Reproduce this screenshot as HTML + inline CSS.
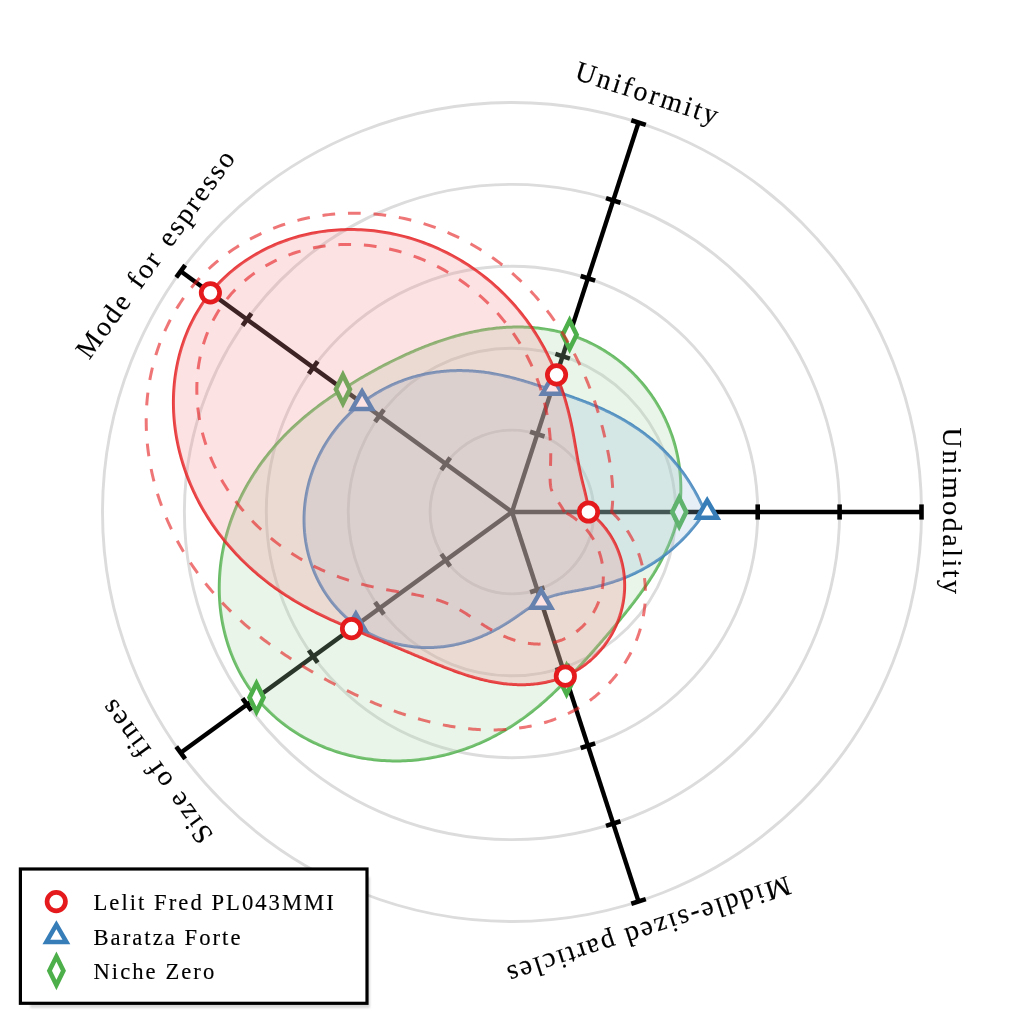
<!DOCTYPE html><html><head><meta charset="utf-8"><style>html,body{margin:0;padding:0;background:#fff;overflow:hidden}svg{display:block}text{font-family:"Liberation Serif",serif}</style></head><body>
<div style="will-change:transform;width:1024px;height:1024px">
<svg width="1024" height="1024" viewBox="0 0 1024 1024">
<rect width="1024" height="1024" fill="#fff"/>
<circle cx="512.0" cy="512.0" r="81.90" fill="none" stroke="#dcdcdc" stroke-width="2.9"/>
<circle cx="512.0" cy="512.0" r="163.80" fill="none" stroke="#dcdcdc" stroke-width="2.9"/>
<circle cx="512.0" cy="512.0" r="245.70" fill="none" stroke="#dcdcdc" stroke-width="2.9"/>
<circle cx="512.0" cy="512.0" r="327.60" fill="none" stroke="#dcdcdc" stroke-width="2.9"/>
<circle cx="512.0" cy="512.0" r="409.50" fill="none" stroke="#dcdcdc" stroke-width="2.9"/>
<line x1="512.0" y1="512.0" x2="921.50" y2="512.00" stroke="#000" stroke-width="4.4"/>
<line x1="593.90" y1="504.40" x2="593.90" y2="519.60" stroke="#000" stroke-width="4.6"/>
<line x1="675.80" y1="504.40" x2="675.80" y2="519.60" stroke="#000" stroke-width="4.6"/>
<line x1="757.70" y1="504.40" x2="757.70" y2="519.60" stroke="#000" stroke-width="4.6"/>
<line x1="839.60" y1="504.40" x2="839.60" y2="519.60" stroke="#000" stroke-width="4.6"/>
<line x1="921.50" y1="504.40" x2="921.50" y2="519.60" stroke="#000" stroke-width="4.6"/>
<line x1="512.0" y1="512.0" x2="638.54" y2="122.54" stroke="#000" stroke-width="4.4"/>
<line x1="530.08" y1="431.76" x2="544.54" y2="436.46" stroke="#000" stroke-width="4.6"/>
<line x1="555.39" y1="353.87" x2="569.85" y2="358.57" stroke="#000" stroke-width="4.6"/>
<line x1="580.70" y1="275.98" x2="595.15" y2="280.67" stroke="#000" stroke-width="4.6"/>
<line x1="606.01" y1="198.09" x2="620.46" y2="202.78" stroke="#000" stroke-width="4.6"/>
<line x1="631.31" y1="120.19" x2="645.77" y2="124.89" stroke="#000" stroke-width="4.6"/>
<line x1="512.0" y1="512.0" x2="180.71" y2="271.30" stroke="#000" stroke-width="4.4"/>
<line x1="441.27" y1="470.01" x2="450.21" y2="457.71" stroke="#000" stroke-width="4.6"/>
<line x1="375.02" y1="421.87" x2="383.95" y2="409.57" stroke="#000" stroke-width="4.6"/>
<line x1="308.76" y1="373.73" x2="317.69" y2="361.43" stroke="#000" stroke-width="4.6"/>
<line x1="242.50" y1="325.59" x2="251.43" y2="313.29" stroke="#000" stroke-width="4.6"/>
<line x1="176.24" y1="277.45" x2="185.17" y2="265.15" stroke="#000" stroke-width="4.6"/>
<line x1="512.0" y1="512.0" x2="180.71" y2="752.70" stroke="#000" stroke-width="4.4"/>
<line x1="450.21" y1="566.29" x2="441.27" y2="553.99" stroke="#000" stroke-width="4.6"/>
<line x1="383.95" y1="614.43" x2="375.02" y2="602.13" stroke="#000" stroke-width="4.6"/>
<line x1="317.69" y1="662.57" x2="308.76" y2="650.27" stroke="#000" stroke-width="4.6"/>
<line x1="251.43" y1="710.71" x2="242.50" y2="698.41" stroke="#000" stroke-width="4.6"/>
<line x1="185.17" y1="758.85" x2="176.24" y2="746.55" stroke="#000" stroke-width="4.6"/>
<line x1="512.0" y1="512.0" x2="638.54" y2="901.46" stroke="#000" stroke-width="4.4"/>
<line x1="544.54" y1="587.54" x2="530.08" y2="592.24" stroke="#000" stroke-width="4.6"/>
<line x1="569.85" y1="665.43" x2="555.39" y2="670.13" stroke="#000" stroke-width="4.6"/>
<line x1="595.15" y1="743.33" x2="580.70" y2="748.02" stroke="#000" stroke-width="4.6"/>
<line x1="620.46" y1="821.22" x2="606.01" y2="825.91" stroke="#000" stroke-width="4.6"/>
<line x1="645.77" y1="899.11" x2="631.31" y2="903.81" stroke="#000" stroke-width="4.6"/>
<path d="M679.20,512.00 L679.40,510.54 L679.59,509.07 L679.76,507.60 L679.92,506.13 L680.07,504.65 L680.21,503.17 L680.33,501.69 L680.44,500.21 L680.53,498.72 L680.61,497.23 L680.68,495.74 L680.74,494.24 L680.78,492.74 L680.81,491.24 L680.82,489.74 L680.82,488.24 L680.81,486.74 L680.78,485.23 L680.74,483.72 L680.69,482.21 L680.62,480.70 L680.54,479.19 L680.44,477.68 L680.33,476.17 L680.21,474.66 L680.07,473.14 L679.92,471.63 L679.75,470.12 L679.57,468.60 L679.37,467.09 L679.16,465.57 L678.94,464.06 L678.70,462.55 L678.45,461.04 L678.18,459.53 L677.90,458.02 L677.60,456.51 L677.29,455.00 L676.97,453.49 L676.63,451.99 L676.28,450.49 L675.91,448.99 L675.52,447.49 L675.13,445.99 L674.72,444.50 L674.29,443.01 L673.85,441.52 L673.39,440.03 L672.92,438.55 L672.44,437.07 L671.94,435.59 L671.43,434.12 L670.90,432.65 L670.35,431.18 L669.80,429.72 L669.23,428.26 L668.64,426.81 L668.04,425.36 L667.42,423.92 L666.79,422.48 L666.15,421.04 L665.49,419.62 L664.82,418.19 L664.13,416.77 L663.43,415.36 L662.72,413.95 L661.99,412.55 L661.24,411.15 L660.49,409.77 L659.71,408.38 L658.93,407.01 L658.13,405.64 L657.31,404.27 L656.49,402.92 L655.64,401.57 L654.79,400.23 L653.92,398.90 L653.04,397.57 L652.14,396.25 L651.23,394.94 L650.31,393.64 L649.37,392.35 L648.42,391.06 L647.46,389.78 L646.48,388.52 L645.49,387.26 L644.49,386.01 L643.47,384.77 L642.44,383.54 L641.40,382.32 L640.35,381.11 L639.28,379.90 L638.20,378.71 L637.11,377.53 L636.00,376.36 L634.89,375.20 L633.76,374.05 L632.62,372.91 L631.46,371.78 L630.30,370.67 L629.12,369.56 L627.94,368.47 L626.74,367.39 L625.53,366.32 L624.30,365.26 L623.07,364.21 L621.83,363.18 L620.57,362.15 L619.30,361.14 L618.03,360.15 L616.74,359.16 L615.44,358.19 L614.13,357.23 L612.82,356.29 L611.49,355.35 L610.15,354.43 L608.80,353.53 L607.44,352.64 L606.08,351.76 L604.70,350.89 L603.32,350.04 L601.92,349.21 L600.52,348.39 L599.11,347.58 L597.69,346.79 L596.26,346.01 L594.82,345.24 L593.38,344.50 L591.92,343.76 L590.46,343.04 L588.99,342.34 L587.52,341.65 L586.03,340.98 L584.54,340.32 L583.05,339.68 L581.54,339.06 L580.03,338.45 L578.52,337.85 L576.99,337.27 L575.46,336.71 L573.93,336.16 L572.39,335.64 L570.84,335.12 L569.29,334.63 L567.73,334.14 L566.17,333.68 L564.61,333.23 L563.04,332.80 L561.46,332.39 L559.88,331.99 L558.30,331.61 L556.71,331.24 L555.13,330.89 L553.53,330.55 L551.94,330.23 L550.34,329.93 L548.74,329.64 L547.14,329.37 L545.53,329.12 L543.92,328.87 L542.31,328.65 L540.70,328.44 L539.09,328.24 L537.48,328.06 L535.86,327.90 L534.25,327.75 L532.63,327.61 L531.01,327.49 L529.39,327.38 L527.78,327.29 L526.16,327.21 L524.54,327.15 L522.92,327.10 L521.30,327.06 L519.68,327.04 L518.06,327.03 L516.45,327.04 L514.83,327.06 L513.21,327.09 L511.60,327.13 L509.98,327.19 L508.37,327.26 L506.75,327.35 L505.14,327.44 L503.53,327.55 L501.92,327.68 L500.31,327.81 L498.71,327.96 L497.10,328.11 L495.50,328.28 L493.90,328.47 L492.30,328.66 L490.70,328.87 L489.10,329.08 L487.51,329.31 L485.92,329.55 L484.32,329.80 L482.74,330.06 L481.15,330.34 L479.56,330.62 L477.98,330.91 L476.40,331.22 L474.82,331.53 L473.24,331.86 L471.67,332.19 L470.09,332.54 L468.52,332.89 L466.95,333.26 L465.39,333.63 L463.82,334.01 L462.26,334.41 L460.70,334.81 L459.14,335.22 L457.58,335.64 L456.03,336.07 L454.47,336.51 L452.92,336.96 L451.37,337.42 L449.82,337.89 L448.27,338.36 L446.73,338.84 L445.19,339.34 L443.64,339.84 L442.10,340.34 L440.56,340.86 L439.03,341.39 L437.49,341.92 L435.95,342.46 L434.42,343.01 L432.88,343.57 L431.35,344.13 L429.82,344.70 L428.29,345.28 L426.76,345.87 L425.23,346.47 L423.70,347.07 L422.17,347.68 L420.64,348.30 L419.11,348.93 L417.59,349.57 L416.06,350.21 L414.53,350.86 L413.00,351.51 L411.47,352.18 L409.94,352.85 L408.41,353.53 L406.88,354.22 L405.35,354.91 L403.82,355.62 L402.29,356.33 L400.76,357.04 L399.22,357.77 L397.69,358.50 L396.15,359.24 L394.61,359.99 L393.07,360.75 L391.53,361.51 L389.98,362.28 L388.44,363.06 L386.89,363.85 L385.34,364.65 L383.79,365.45 L382.23,366.26 L380.68,367.09 L379.12,367.92 L377.55,368.75 L375.99,369.60 L374.42,370.45 L372.85,371.32 L371.27,372.19 L369.69,373.07 L368.11,373.96 L366.53,374.86 L364.94,375.77 L363.35,376.69 L361.75,377.62 L360.15,378.56 L358.54,379.51 L356.94,380.47 L355.32,381.44 L353.71,382.42 L352.08,383.41 L350.46,384.41 L348.83,385.42 L347.19,386.44 L345.55,387.47 L343.91,388.52 L342.25,389.58 L340.60,390.65 L338.94,391.73 L337.27,392.82 L335.61,393.93 L333.93,395.05 L332.26,396.18 L330.58,397.33 L328.89,398.50 L327.21,399.67 L325.52,400.87 L323.83,402.08 L322.14,403.30 L320.45,404.55 L318.75,405.80 L317.06,407.08 L315.36,408.37 L313.66,409.68 L311.97,411.01 L310.27,412.36 L308.58,413.72 L306.89,415.11 L305.20,416.51 L303.51,417.93 L301.83,419.38 L300.14,420.84 L298.47,422.32 L296.79,423.82 L295.12,425.34 L293.46,426.88 L291.80,428.45 L290.15,430.03 L288.50,431.63 L286.86,433.26 L285.23,434.91 L283.60,436.57 L281.99,438.26 L280.38,439.97 L278.78,441.71 L277.20,443.46 L275.62,445.24 L274.05,447.03 L272.50,448.85 L270.95,450.69 L269.42,452.56 L267.90,454.44 L266.40,456.35 L264.91,458.27 L263.43,460.22 L261.97,462.20 L260.53,464.19 L259.10,466.20 L257.68,468.24 L256.29,470.30 L254.91,472.37 L253.55,474.47 L252.21,476.59 L250.88,478.74 L249.58,480.90 L248.30,483.08 L247.04,485.28 L245.80,487.51 L244.58,489.75 L243.39,492.01 L242.21,494.29 L241.06,496.59 L239.94,498.91 L238.84,501.25 L237.76,503.61 L236.71,505.98 L235.68,508.38 L234.69,510.79 L233.72,513.22 L232.77,515.66 L231.85,518.12 L230.97,520.60 L230.11,523.09 L229.28,525.60 L228.48,528.12 L227.71,530.66 L226.97,533.21 L226.26,535.78 L225.59,538.35 L224.94,540.95 L224.33,543.55 L223.75,546.16 L223.21,548.79 L222.70,551.43 L222.22,554.08 L221.77,556.73 L221.37,559.40 L220.99,562.08 L220.65,564.76 L220.35,567.45 L220.09,570.15 L219.86,572.85 L219.67,575.56 L219.51,578.28 L219.40,581.00 L219.32,583.72 L219.28,586.45 L219.27,589.18 L219.31,591.91 L219.38,594.65 L219.50,597.38 L219.65,600.12 L219.85,602.85 L220.08,605.58 L220.35,608.31 L220.67,611.04 L221.02,613.77 L221.42,616.49 L221.85,619.20 L222.33,621.91 L222.85,624.62 L223.41,627.31 L224.01,630.00 L224.65,632.68 L225.33,635.35 L226.06,638.02 L226.82,640.67 L227.63,643.30 L228.48,645.93 L229.37,648.54 L230.30,651.14 L231.28,653.73 L232.29,656.29 L233.35,658.84 L234.45,661.38 L235.59,663.90 L236.77,666.39 L237.99,668.87 L239.26,671.33 L240.56,673.76 L241.91,676.18 L243.29,678.57 L244.72,680.93 L246.19,683.28 L247.69,685.59 L249.24,687.88 L250.83,690.14 L252.45,692.38 L254.12,694.58 L255.82,696.76 L257.56,698.91 L259.34,701.02 L261.16,703.10 L263.01,705.15 L264.90,707.17 L266.82,709.15 L268.78,711.11 L270.77,713.02 L272.79,714.91 L274.85,716.75 L276.93,718.57 L279.05,720.34 L281.19,722.08 L283.36,723.79 L285.56,725.46 L287.79,727.09 L290.04,728.68 L292.32,730.24 L294.62,731.76 L296.95,733.25 L299.30,734.69 L301.67,736.10 L304.06,737.46 L306.47,738.79 L308.91,740.09 L311.36,741.34 L313.82,742.55 L316.31,743.73 L318.81,744.86 L321.33,745.96 L323.86,747.01 L326.41,748.03 L328.97,749.01 L331.54,749.95 L334.12,750.85 L336.72,751.71 L339.32,752.53 L341.94,753.32 L344.56,754.06 L347.19,754.76 L349.83,755.43 L352.47,756.06 L355.12,756.64 L357.78,757.19 L360.43,757.70 L363.10,758.18 L365.76,758.61 L368.43,759.01 L371.10,759.36 L373.77,759.69 L376.44,759.97 L379.11,760.22 L381.78,760.43 L384.44,760.60 L387.11,760.74 L389.77,760.84 L392.42,760.90 L395.07,760.93 L397.72,760.92 L400.36,760.88 L403.00,760.81 L405.63,760.70 L408.25,760.55 L410.86,760.38 L413.47,760.17 L416.06,759.92 L418.65,759.65 L421.23,759.34 L423.79,759.00 L426.35,758.63 L428.89,758.23 L431.42,757.80 L433.94,757.34 L436.45,756.85 L438.94,756.33 L441.42,755.78 L443.88,755.21 L446.33,754.60 L448.77,753.97 L451.19,753.31 L453.59,752.63 L455.98,751.92 L458.35,751.19 L460.70,750.43 L463.04,749.64 L465.36,748.84 L467.66,748.01 L469.95,747.15 L472.21,746.28 L474.46,745.38 L476.69,744.47 L478.90,743.53 L481.09,742.57 L483.26,741.60 L485.41,740.60 L487.54,739.59 L489.66,738.55 L491.75,737.51 L493.82,736.44 L495.87,735.36 L497.90,734.26 L499.91,733.15 L501.90,732.03 L503.87,730.89 L505.81,729.73 L507.74,728.57 L509.65,727.39 L511.53,726.20 L513.40,725.00 L515.24,723.79 L517.06,722.57 L518.86,721.34 L520.64,720.10 L522.40,718.86 L524.14,717.60 L525.86,716.34 L527.56,715.07 L529.24,713.80 L530.89,712.52 L532.53,711.23 L534.15,709.94 L535.74,708.65 L537.32,707.36 L538.88,706.06 L540.42,704.76 L541.94,703.45 L543.44,702.15 L544.92,700.84 L546.38,699.54 L547.83,698.23 L549.26,696.92 L550.67,695.62 L552.06,694.32 L553.43,693.02 L554.79,691.72 L556.14,690.42 L557.46,689.13 L558.77,687.84 L560.07,686.56 L561.35,685.28 L562.62,684.00 L563.87,682.73 L565.10,681.47 L566.33,680.21 L567.54,678.96 L568.74,677.71 L569.93,676.47 L571.10,675.24 L572.26,674.01 L573.41,672.79 L574.55,671.58 L575.68,670.37 L576.80,669.17 L577.91,667.98 L579.01,666.79 L580.10,665.61 L581.17,664.43 L582.24,663.26 L583.30,662.09 L584.35,660.93 L585.40,659.78 L586.43,658.63 L587.46,657.49 L588.48,656.35 L589.49,655.22 L590.49,654.09 L591.48,652.97 L592.47,651.85 L593.46,650.74 L594.43,649.63 L595.40,648.53 L596.36,647.43 L597.32,646.34 L598.27,645.25 L599.22,644.16 L600.16,643.08 L601.09,642.00 L602.02,640.93 L602.94,639.86 L603.86,638.79 L604.78,637.72 L605.69,636.66 L606.59,635.60 L607.50,634.55 L608.39,633.49 L609.29,632.44 L610.18,631.39 L611.06,630.35 L611.94,629.30 L612.82,628.26 L613.69,627.22 L614.57,626.18 L615.43,625.14 L616.30,624.10 L617.16,623.07 L618.02,622.03 L618.87,621.00 L619.73,619.96 L620.57,618.93 L621.42,617.89 L622.27,616.86 L623.11,615.82 L623.94,614.79 L624.78,613.76 L625.61,612.72 L626.44,611.68 L627.27,610.65 L628.09,609.61 L628.92,608.57 L629.74,607.53 L630.55,606.48 L631.37,605.44 L632.18,604.39 L632.99,603.34 L633.79,602.29 L634.60,601.24 L635.40,600.18 L636.20,599.12 L636.99,598.06 L637.79,596.99 L638.57,595.93 L639.36,594.85 L640.15,593.78 L640.93,592.70 L641.70,591.62 L642.48,590.53 L643.25,589.44 L644.02,588.35 L644.78,587.25 L645.54,586.15 L646.30,585.04 L647.05,583.93 L647.80,582.81 L648.55,581.69 L649.29,580.56 L650.03,579.43 L650.76,578.29 L651.49,577.15 L652.21,576.00 L652.93,574.85 L653.65,573.69 L654.36,572.52 L655.07,571.35 L655.77,570.18 L656.46,568.99 L657.15,567.80 L657.84,566.61 L658.52,565.41 L659.19,564.20 L659.86,562.99 L660.52,561.77 L661.18,560.54 L661.82,559.31 L662.47,558.07 L663.10,556.82 L663.73,555.57 L664.35,554.31 L664.97,553.05 L665.58,551.78 L666.18,550.50 L666.77,549.21 L667.35,547.92 L667.93,546.62 L668.50,545.31 L669.06,544.00 L669.61,542.68 L670.15,541.35 L670.68,540.02 L671.21,538.68 L671.72,537.33 L672.23,535.98 L672.72,534.62 L673.21,533.25 L673.69,531.88 L674.15,530.50 L674.61,529.11 L675.05,527.72 L675.49,526.32 L675.91,524.92 L676.32,523.51 L676.73,522.09 L677.11,520.67 L677.49,519.24 L677.86,517.80 L678.21,516.36 L678.55,514.91 L678.88,513.46 L679.20,512.00 Z" fill="none" stroke="rgba(77,175,74,0.85)" stroke-width="3.0" stroke-linejoin="round"/>
<path d="M679.20,512.00 L679.40,510.54 L679.59,509.07 L679.76,507.60 L679.92,506.13 L680.07,504.65 L680.21,503.17 L680.33,501.69 L680.44,500.21 L680.53,498.72 L680.61,497.23 L680.68,495.74 L680.74,494.24 L680.78,492.74 L680.81,491.24 L680.82,489.74 L680.82,488.24 L680.81,486.74 L680.78,485.23 L680.74,483.72 L680.69,482.21 L680.62,480.70 L680.54,479.19 L680.44,477.68 L680.33,476.17 L680.21,474.66 L680.07,473.14 L679.92,471.63 L679.75,470.12 L679.57,468.60 L679.37,467.09 L679.16,465.57 L678.94,464.06 L678.70,462.55 L678.45,461.04 L678.18,459.53 L677.90,458.02 L677.60,456.51 L677.29,455.00 L676.97,453.49 L676.63,451.99 L676.28,450.49 L675.91,448.99 L675.52,447.49 L675.13,445.99 L674.72,444.50 L674.29,443.01 L673.85,441.52 L673.39,440.03 L672.92,438.55 L672.44,437.07 L671.94,435.59 L671.43,434.12 L670.90,432.65 L670.35,431.18 L669.80,429.72 L669.23,428.26 L668.64,426.81 L668.04,425.36 L667.42,423.92 L666.79,422.48 L666.15,421.04 L665.49,419.62 L664.82,418.19 L664.13,416.77 L663.43,415.36 L662.72,413.95 L661.99,412.55 L661.24,411.15 L660.49,409.77 L659.71,408.38 L658.93,407.01 L658.13,405.64 L657.31,404.27 L656.49,402.92 L655.64,401.57 L654.79,400.23 L653.92,398.90 L653.04,397.57 L652.14,396.25 L651.23,394.94 L650.31,393.64 L649.37,392.35 L648.42,391.06 L647.46,389.78 L646.48,388.52 L645.49,387.26 L644.49,386.01 L643.47,384.77 L642.44,383.54 L641.40,382.32 L640.35,381.11 L639.28,379.90 L638.20,378.71 L637.11,377.53 L636.00,376.36 L634.89,375.20 L633.76,374.05 L632.62,372.91 L631.46,371.78 L630.30,370.67 L629.12,369.56 L627.94,368.47 L626.74,367.39 L625.53,366.32 L624.30,365.26 L623.07,364.21 L621.83,363.18 L620.57,362.15 L619.30,361.14 L618.03,360.15 L616.74,359.16 L615.44,358.19 L614.13,357.23 L612.82,356.29 L611.49,355.35 L610.15,354.43 L608.80,353.53 L607.44,352.64 L606.08,351.76 L604.70,350.89 L603.32,350.04 L601.92,349.21 L600.52,348.39 L599.11,347.58 L597.69,346.79 L596.26,346.01 L594.82,345.24 L593.38,344.50 L591.92,343.76 L590.46,343.04 L588.99,342.34 L587.52,341.65 L586.03,340.98 L584.54,340.32 L583.05,339.68 L581.54,339.06 L580.03,338.45 L578.52,337.85 L576.99,337.27 L575.46,336.71 L573.93,336.16 L572.39,335.64 L570.84,335.12 L569.29,334.63 L567.73,334.14 L566.17,333.68 L564.61,333.23 L563.04,332.80 L561.46,332.39 L559.88,331.99 L558.30,331.61 L556.71,331.24 L555.13,330.89 L553.53,330.55 L551.94,330.23 L550.34,329.93 L548.74,329.64 L547.14,329.37 L545.53,329.12 L543.92,328.87 L542.31,328.65 L540.70,328.44 L539.09,328.24 L537.48,328.06 L535.86,327.90 L534.25,327.75 L532.63,327.61 L531.01,327.49 L529.39,327.38 L527.78,327.29 L526.16,327.21 L524.54,327.15 L522.92,327.10 L521.30,327.06 L519.68,327.04 L518.06,327.03 L516.45,327.04 L514.83,327.06 L513.21,327.09 L511.60,327.13 L509.98,327.19 L508.37,327.26 L506.75,327.35 L505.14,327.44 L503.53,327.55 L501.92,327.68 L500.31,327.81 L498.71,327.96 L497.10,328.11 L495.50,328.28 L493.90,328.47 L492.30,328.66 L490.70,328.87 L489.10,329.08 L487.51,329.31 L485.92,329.55 L484.32,329.80 L482.74,330.06 L481.15,330.34 L479.56,330.62 L477.98,330.91 L476.40,331.22 L474.82,331.53 L473.24,331.86 L471.67,332.19 L470.09,332.54 L468.52,332.89 L466.95,333.26 L465.39,333.63 L463.82,334.01 L462.26,334.41 L460.70,334.81 L459.14,335.22 L457.58,335.64 L456.03,336.07 L454.47,336.51 L452.92,336.96 L451.37,337.42 L449.82,337.89 L448.27,338.36 L446.73,338.84 L445.19,339.34 L443.64,339.84 L442.10,340.34 L440.56,340.86 L439.03,341.39 L437.49,341.92 L435.95,342.46 L434.42,343.01 L432.88,343.57 L431.35,344.13 L429.82,344.70 L428.29,345.28 L426.76,345.87 L425.23,346.47 L423.70,347.07 L422.17,347.68 L420.64,348.30 L419.11,348.93 L417.59,349.57 L416.06,350.21 L414.53,350.86 L413.00,351.51 L411.47,352.18 L409.94,352.85 L408.41,353.53 L406.88,354.22 L405.35,354.91 L403.82,355.62 L402.29,356.33 L400.76,357.04 L399.22,357.77 L397.69,358.50 L396.15,359.24 L394.61,359.99 L393.07,360.75 L391.53,361.51 L389.98,362.28 L388.44,363.06 L386.89,363.85 L385.34,364.65 L383.79,365.45 L382.23,366.26 L380.68,367.09 L379.12,367.92 L377.55,368.75 L375.99,369.60 L374.42,370.45 L372.85,371.32 L371.27,372.19 L369.69,373.07 L368.11,373.96 L366.53,374.86 L364.94,375.77 L363.35,376.69 L361.75,377.62 L360.15,378.56 L358.54,379.51 L356.94,380.47 L355.32,381.44 L353.71,382.42 L352.08,383.41 L350.46,384.41 L348.83,385.42 L347.19,386.44 L345.55,387.47 L343.91,388.52 L342.25,389.58 L340.60,390.65 L338.94,391.73 L337.27,392.82 L335.61,393.93 L333.93,395.05 L332.26,396.18 L330.58,397.33 L328.89,398.50 L327.21,399.67 L325.52,400.87 L323.83,402.08 L322.14,403.30 L320.45,404.55 L318.75,405.80 L317.06,407.08 L315.36,408.37 L313.66,409.68 L311.97,411.01 L310.27,412.36 L308.58,413.72 L306.89,415.11 L305.20,416.51 L303.51,417.93 L301.83,419.38 L300.14,420.84 L298.47,422.32 L296.79,423.82 L295.12,425.34 L293.46,426.88 L291.80,428.45 L290.15,430.03 L288.50,431.63 L286.86,433.26 L285.23,434.91 L283.60,436.57 L281.99,438.26 L280.38,439.97 L278.78,441.71 L277.20,443.46 L275.62,445.24 L274.05,447.03 L272.50,448.85 L270.95,450.69 L269.42,452.56 L267.90,454.44 L266.40,456.35 L264.91,458.27 L263.43,460.22 L261.97,462.20 L260.53,464.19 L259.10,466.20 L257.68,468.24 L256.29,470.30 L254.91,472.37 L253.55,474.47 L252.21,476.59 L250.88,478.74 L249.58,480.90 L248.30,483.08 L247.04,485.28 L245.80,487.51 L244.58,489.75 L243.39,492.01 L242.21,494.29 L241.06,496.59 L239.94,498.91 L238.84,501.25 L237.76,503.61 L236.71,505.98 L235.68,508.38 L234.69,510.79 L233.72,513.22 L232.77,515.66 L231.85,518.12 L230.97,520.60 L230.11,523.09 L229.28,525.60 L228.48,528.12 L227.71,530.66 L226.97,533.21 L226.26,535.78 L225.59,538.35 L224.94,540.95 L224.33,543.55 L223.75,546.16 L223.21,548.79 L222.70,551.43 L222.22,554.08 L221.77,556.73 L221.37,559.40 L220.99,562.08 L220.65,564.76 L220.35,567.45 L220.09,570.15 L219.86,572.85 L219.67,575.56 L219.51,578.28 L219.40,581.00 L219.32,583.72 L219.28,586.45 L219.27,589.18 L219.31,591.91 L219.38,594.65 L219.50,597.38 L219.65,600.12 L219.85,602.85 L220.08,605.58 L220.35,608.31 L220.67,611.04 L221.02,613.77 L221.42,616.49 L221.85,619.20 L222.33,621.91 L222.85,624.62 L223.41,627.31 L224.01,630.00 L224.65,632.68 L225.33,635.35 L226.06,638.02 L226.82,640.67 L227.63,643.30 L228.48,645.93 L229.37,648.54 L230.30,651.14 L231.28,653.73 L232.29,656.29 L233.35,658.84 L234.45,661.38 L235.59,663.90 L236.77,666.39 L237.99,668.87 L239.26,671.33 L240.56,673.76 L241.91,676.18 L243.29,678.57 L244.72,680.93 L246.19,683.28 L247.69,685.59 L249.24,687.88 L250.83,690.14 L252.45,692.38 L254.12,694.58 L255.82,696.76 L257.56,698.91 L259.34,701.02 L261.16,703.10 L263.01,705.15 L264.90,707.17 L266.82,709.15 L268.78,711.11 L270.77,713.02 L272.79,714.91 L274.85,716.75 L276.93,718.57 L279.05,720.34 L281.19,722.08 L283.36,723.79 L285.56,725.46 L287.79,727.09 L290.04,728.68 L292.32,730.24 L294.62,731.76 L296.95,733.25 L299.30,734.69 L301.67,736.10 L304.06,737.46 L306.47,738.79 L308.91,740.09 L311.36,741.34 L313.82,742.55 L316.31,743.73 L318.81,744.86 L321.33,745.96 L323.86,747.01 L326.41,748.03 L328.97,749.01 L331.54,749.95 L334.12,750.85 L336.72,751.71 L339.32,752.53 L341.94,753.32 L344.56,754.06 L347.19,754.76 L349.83,755.43 L352.47,756.06 L355.12,756.64 L357.78,757.19 L360.43,757.70 L363.10,758.18 L365.76,758.61 L368.43,759.01 L371.10,759.36 L373.77,759.69 L376.44,759.97 L379.11,760.22 L381.78,760.43 L384.44,760.60 L387.11,760.74 L389.77,760.84 L392.42,760.90 L395.07,760.93 L397.72,760.92 L400.36,760.88 L403.00,760.81 L405.63,760.70 L408.25,760.55 L410.86,760.38 L413.47,760.17 L416.06,759.92 L418.65,759.65 L421.23,759.34 L423.79,759.00 L426.35,758.63 L428.89,758.23 L431.42,757.80 L433.94,757.34 L436.45,756.85 L438.94,756.33 L441.42,755.78 L443.88,755.21 L446.33,754.60 L448.77,753.97 L451.19,753.31 L453.59,752.63 L455.98,751.92 L458.35,751.19 L460.70,750.43 L463.04,749.64 L465.36,748.84 L467.66,748.01 L469.95,747.15 L472.21,746.28 L474.46,745.38 L476.69,744.47 L478.90,743.53 L481.09,742.57 L483.26,741.60 L485.41,740.60 L487.54,739.59 L489.66,738.55 L491.75,737.51 L493.82,736.44 L495.87,735.36 L497.90,734.26 L499.91,733.15 L501.90,732.03 L503.87,730.89 L505.81,729.73 L507.74,728.57 L509.65,727.39 L511.53,726.20 L513.40,725.00 L515.24,723.79 L517.06,722.57 L518.86,721.34 L520.64,720.10 L522.40,718.86 L524.14,717.60 L525.86,716.34 L527.56,715.07 L529.24,713.80 L530.89,712.52 L532.53,711.23 L534.15,709.94 L535.74,708.65 L537.32,707.36 L538.88,706.06 L540.42,704.76 L541.94,703.45 L543.44,702.15 L544.92,700.84 L546.38,699.54 L547.83,698.23 L549.26,696.92 L550.67,695.62 L552.06,694.32 L553.43,693.02 L554.79,691.72 L556.14,690.42 L557.46,689.13 L558.77,687.84 L560.07,686.56 L561.35,685.28 L562.62,684.00 L563.87,682.73 L565.10,681.47 L566.33,680.21 L567.54,678.96 L568.74,677.71 L569.93,676.47 L571.10,675.24 L572.26,674.01 L573.41,672.79 L574.55,671.58 L575.68,670.37 L576.80,669.17 L577.91,667.98 L579.01,666.79 L580.10,665.61 L581.17,664.43 L582.24,663.26 L583.30,662.09 L584.35,660.93 L585.40,659.78 L586.43,658.63 L587.46,657.49 L588.48,656.35 L589.49,655.22 L590.49,654.09 L591.48,652.97 L592.47,651.85 L593.46,650.74 L594.43,649.63 L595.40,648.53 L596.36,647.43 L597.32,646.34 L598.27,645.25 L599.22,644.16 L600.16,643.08 L601.09,642.00 L602.02,640.93 L602.94,639.86 L603.86,638.79 L604.78,637.72 L605.69,636.66 L606.59,635.60 L607.50,634.55 L608.39,633.49 L609.29,632.44 L610.18,631.39 L611.06,630.35 L611.94,629.30 L612.82,628.26 L613.69,627.22 L614.57,626.18 L615.43,625.14 L616.30,624.10 L617.16,623.07 L618.02,622.03 L618.87,621.00 L619.73,619.96 L620.57,618.93 L621.42,617.89 L622.27,616.86 L623.11,615.82 L623.94,614.79 L624.78,613.76 L625.61,612.72 L626.44,611.68 L627.27,610.65 L628.09,609.61 L628.92,608.57 L629.74,607.53 L630.55,606.48 L631.37,605.44 L632.18,604.39 L632.99,603.34 L633.79,602.29 L634.60,601.24 L635.40,600.18 L636.20,599.12 L636.99,598.06 L637.79,596.99 L638.57,595.93 L639.36,594.85 L640.15,593.78 L640.93,592.70 L641.70,591.62 L642.48,590.53 L643.25,589.44 L644.02,588.35 L644.78,587.25 L645.54,586.15 L646.30,585.04 L647.05,583.93 L647.80,582.81 L648.55,581.69 L649.29,580.56 L650.03,579.43 L650.76,578.29 L651.49,577.15 L652.21,576.00 L652.93,574.85 L653.65,573.69 L654.36,572.52 L655.07,571.35 L655.77,570.18 L656.46,568.99 L657.15,567.80 L657.84,566.61 L658.52,565.41 L659.19,564.20 L659.86,562.99 L660.52,561.77 L661.18,560.54 L661.82,559.31 L662.47,558.07 L663.10,556.82 L663.73,555.57 L664.35,554.31 L664.97,553.05 L665.58,551.78 L666.18,550.50 L666.77,549.21 L667.35,547.92 L667.93,546.62 L668.50,545.31 L669.06,544.00 L669.61,542.68 L670.15,541.35 L670.68,540.02 L671.21,538.68 L671.72,537.33 L672.23,535.98 L672.72,534.62 L673.21,533.25 L673.69,531.88 L674.15,530.50 L674.61,529.11 L675.05,527.72 L675.49,526.32 L675.91,524.92 L676.32,523.51 L676.73,522.09 L677.11,520.67 L677.49,519.24 L677.86,517.80 L678.21,516.36 L678.55,514.91 L678.88,513.46 L679.20,512.00 Z" fill="rgba(166,215,164,0.25)" stroke="none"/>
<path d="M679.20,497.80 L686.20,512.00 L679.20,526.20 L672.20,512.00 Z" fill="#fff" stroke="rgba(77,175,74,1)" stroke-width="4.6" stroke-linejoin="miter" stroke-miterlimit="10"/>
<path d="M569.60,320.52 L576.60,334.72 L569.60,348.92 L562.60,334.72 Z" fill="#fff" stroke="rgba(77,175,74,1)" stroke-width="4.6" stroke-linejoin="miter" stroke-miterlimit="10"/>
<path d="M342.92,374.95 L349.92,389.15 L342.92,403.35 L335.92,389.15 Z" fill="#fff" stroke="rgba(77,175,74,1)" stroke-width="4.6" stroke-linejoin="miter" stroke-miterlimit="10"/>
<path d="M256.51,683.42 L263.51,697.62 L256.51,711.82 L249.51,697.62 Z" fill="#fff" stroke="rgba(77,175,74,1)" stroke-width="4.6" stroke-linejoin="miter" stroke-miterlimit="10"/>
<path d="M566.57,665.76 L573.57,679.96 L566.57,694.16 L559.57,679.96 Z" fill="#fff" stroke="rgba(77,175,74,1)" stroke-width="4.6" stroke-linejoin="miter" stroke-miterlimit="10"/>
<path d="M704.80,512.00 L704.11,510.32 L703.41,508.65 L702.70,507.00 L701.97,505.36 L701.22,503.73 L700.47,502.11 L699.70,500.50 L698.91,498.91 L698.12,497.33 L697.31,495.76 L696.49,494.21 L695.65,492.67 L694.81,491.14 L693.95,489.63 L693.08,488.13 L692.20,486.64 L691.31,485.16 L690.41,483.70 L689.50,482.26 L688.57,480.82 L687.64,479.40 L686.70,477.99 L685.75,476.60 L684.78,475.22 L683.81,473.86 L682.83,472.50 L681.84,471.17 L680.84,469.84 L679.84,468.53 L678.82,467.23 L677.80,465.95 L676.77,464.68 L675.74,463.43 L674.69,462.19 L673.64,460.96 L672.58,459.75 L671.52,458.55 L670.45,457.36 L669.37,456.19 L668.29,455.03 L667.20,453.89 L666.11,452.75 L665.01,451.64 L663.90,450.53 L662.79,449.44 L661.68,448.37 L660.56,447.30 L659.44,446.25 L658.31,445.22 L657.18,444.19 L656.05,443.18 L654.91,442.19 L653.77,441.20 L652.63,440.23 L651.48,439.27 L650.33,438.33 L649.18,437.40 L648.02,436.48 L646.87,435.57 L645.71,434.67 L644.55,433.79 L643.39,432.92 L642.22,432.06 L641.06,431.22 L639.89,430.38 L638.73,429.56 L637.56,428.75 L636.39,427.95 L635.22,427.16 L634.05,426.38 L632.88,425.62 L631.71,424.87 L630.54,424.12 L629.37,423.39 L628.20,422.67 L627.03,421.96 L625.86,421.26 L624.69,420.57 L623.52,419.89 L622.36,419.22 L621.19,418.56 L620.02,417.91 L618.86,417.27 L617.70,416.63 L616.54,416.01 L615.38,415.40 L614.22,414.79 L613.06,414.20 L611.90,413.61 L610.75,413.03 L609.60,412.46 L608.45,411.90 L607.30,411.35 L606.15,410.80 L605.01,410.26 L603.87,409.73 L602.72,409.21 L601.59,408.69 L600.45,408.19 L599.32,407.68 L598.18,407.19 L597.06,406.70 L595.93,406.22 L594.80,405.74 L593.68,405.27 L592.56,404.81 L591.44,404.35 L590.33,403.89 L589.21,403.45 L588.10,403.00 L587.00,402.57 L585.89,402.13 L584.79,401.70 L583.68,401.28 L582.59,400.86 L581.49,400.45 L580.39,400.04 L579.30,399.63 L578.21,399.23 L577.12,398.83 L576.04,398.43 L574.95,398.04 L573.87,397.65 L572.79,397.26 L571.71,396.87 L570.63,396.49 L569.56,396.11 L568.48,395.74 L567.41,395.36 L566.34,394.99 L565.27,394.62 L564.20,394.25 L563.13,393.88 L562.07,393.52 L561.00,393.15 L559.94,392.79 L558.87,392.43 L557.81,392.06 L556.75,391.70 L555.68,391.34 L554.62,390.98 L553.56,390.63 L552.50,390.27 L551.43,389.91 L550.37,389.55 L549.31,389.19 L548.24,388.83 L547.18,388.47 L546.11,388.12 L545.05,387.76 L543.98,387.40 L542.91,387.05 L541.84,386.69 L540.76,386.34 L539.69,385.98 L538.61,385.63 L537.53,385.27 L536.45,384.92 L535.36,384.57 L534.27,384.22 L533.18,383.87 L532.09,383.53 L530.99,383.18 L529.89,382.84 L528.79,382.49 L527.68,382.15 L526.57,381.81 L525.45,381.48 L524.33,381.14 L523.20,380.81 L522.08,380.48 L520.94,380.15 L519.81,379.83 L518.66,379.51 L517.52,379.19 L516.36,378.87 L515.21,378.56 L514.05,378.25 L512.88,377.94 L511.71,377.64 L510.53,377.34 L509.35,377.05 L508.16,376.76 L506.96,376.47 L505.77,376.19 L504.56,375.92 L503.35,375.65 L502.13,375.38 L500.91,375.12 L499.68,374.86 L498.45,374.61 L497.21,374.37 L495.96,374.13 L494.71,373.90 L493.46,373.67 L492.19,373.45 L490.92,373.24 L489.65,373.03 L488.37,372.83 L487.08,372.64 L485.78,372.46 L484.49,372.28 L483.18,372.11 L481.87,371.95 L480.55,371.80 L479.23,371.65 L477.90,371.51 L476.56,371.39 L475.22,371.27 L473.88,371.16 L472.52,371.06 L471.17,370.97 L469.80,370.88 L468.43,370.81 L467.06,370.75 L465.68,370.70 L464.29,370.66 L462.90,370.63 L461.51,370.61 L460.11,370.60 L458.70,370.60 L457.29,370.61 L455.87,370.64 L454.45,370.67 L453.03,370.72 L451.60,370.78 L450.17,370.85 L448.73,370.94 L447.29,371.04 L445.84,371.15 L444.39,371.27 L442.94,371.40 L441.48,371.55 L440.02,371.71 L438.55,371.89 L437.09,372.08 L435.62,372.28 L434.14,372.50 L432.67,372.73 L431.19,372.97 L429.71,373.23 L428.23,373.50 L426.74,373.79 L425.26,374.09 L423.77,374.41 L422.28,374.74 L420.79,375.09 L419.30,375.46 L417.81,375.83 L416.32,376.23 L414.82,376.64 L413.33,377.06 L411.84,377.50 L410.34,377.96 L408.85,378.43 L407.36,378.92 L405.87,379.43 L404.38,379.95 L402.89,380.49 L401.41,381.04 L399.92,381.61 L398.44,382.20 L396.96,382.80 L395.48,383.43 L394.01,384.06 L392.54,384.72 L391.07,385.39 L389.60,386.08 L388.14,386.78 L386.69,387.51 L385.23,388.24 L383.79,389.00 L382.34,389.78 L380.91,390.57 L379.47,391.37 L378.05,392.20 L376.63,393.04 L375.21,393.90 L373.81,394.78 L372.40,395.67 L371.01,396.58 L369.62,397.51 L368.25,398.46 L366.87,399.42 L365.51,400.40 L364.16,401.39 L362.81,402.41 L361.47,403.44 L360.15,404.49 L358.83,405.55 L357.52,406.63 L356.22,407.73 L354.94,408.84 L353.66,409.97 L352.39,411.12 L351.14,412.28 L349.89,413.46 L348.66,414.66 L347.44,415.87 L346.23,417.10 L345.03,418.34 L343.85,419.60 L342.68,420.87 L341.52,422.16 L340.38,423.46 L339.25,424.78 L338.13,426.12 L337.03,427.47 L335.94,428.83 L334.86,430.21 L333.80,431.60 L332.76,433.01 L331.73,434.43 L330.71,435.86 L329.72,437.31 L328.73,438.77 L327.77,440.25 L326.82,441.73 L325.88,443.23 L324.97,444.75 L324.07,446.27 L323.18,447.81 L322.32,449.36 L321.47,450.92 L320.64,452.49 L319.83,454.08 L319.03,455.67 L318.26,457.28 L317.50,458.90 L316.77,460.52 L316.05,462.16 L315.35,463.81 L314.67,465.47 L314.01,467.13 L313.37,468.81 L312.75,470.50 L312.15,472.19 L311.56,473.89 L311.00,475.60 L310.47,477.32 L309.95,479.05 L309.45,480.78 L308.97,482.52 L308.52,484.27 L308.08,486.02 L307.67,487.78 L307.28,489.55 L306.91,491.32 L306.56,493.10 L306.24,494.88 L305.94,496.67 L305.65,498.46 L305.40,500.25 L305.16,502.05 L304.95,503.85 L304.76,505.66 L304.59,507.47 L304.44,509.28 L304.32,511.09 L304.22,512.91 L304.15,514.72 L304.09,516.54 L304.06,518.36 L304.06,520.18 L304.08,522.00 L304.12,523.82 L304.18,525.64 L304.27,527.46 L304.38,529.28 L304.52,531.09 L304.67,532.91 L304.86,534.72 L305.06,536.53 L305.29,538.33 L305.55,540.14 L305.82,541.94 L306.13,543.73 L306.45,545.52 L306.80,547.31 L307.17,549.09 L307.57,550.87 L307.99,552.64 L308.43,554.40 L308.90,556.16 L309.39,557.91 L309.90,559.66 L310.44,561.39 L311.00,563.12 L311.58,564.84 L312.19,566.55 L312.82,568.26 L313.47,569.95 L314.15,571.63 L314.85,573.31 L315.57,574.97 L316.32,576.62 L317.09,578.26 L317.88,579.89 L318.69,581.51 L319.53,583.12 L320.38,584.71 L321.26,586.29 L322.16,587.85 L323.09,589.41 L324.03,590.94 L325.00,592.47 L325.98,593.98 L326.99,595.47 L328.02,596.95 L329.07,598.41 L330.14,599.86 L331.23,601.29 L332.34,602.70 L333.47,604.10 L334.62,605.47 L335.79,606.83 L336.98,608.18 L338.19,609.50 L339.42,610.80 L340.67,612.09 L341.93,613.35 L343.21,614.60 L344.51,615.82 L345.83,617.03 L347.17,618.21 L348.52,619.37 L349.89,620.51 L351.27,621.63 L352.67,622.73 L354.09,623.80 L355.52,624.85 L356.97,625.88 L358.44,626.88 L359.91,627.87 L361.41,628.82 L362.91,629.76 L364.43,630.67 L365.96,631.55 L367.50,632.41 L369.06,633.25 L370.62,634.07 L372.19,634.85 L373.78,635.62 L375.37,636.36 L376.97,637.08 L378.58,637.77 L380.20,638.44 L381.83,639.08 L383.46,639.70 L385.10,640.29 L386.74,640.87 L388.39,641.41 L390.05,641.93 L391.71,642.43 L393.37,642.91 L395.04,643.36 L396.71,643.78 L398.38,644.18 L400.05,644.56 L401.73,644.92 L403.40,645.25 L405.08,645.56 L406.76,645.84 L408.44,646.11 L410.11,646.34 L411.79,646.56 L413.46,646.76 L415.14,646.93 L416.81,647.08 L418.47,647.20 L420.14,647.31 L421.80,647.39 L423.46,647.46 L425.11,647.50 L426.76,647.52 L428.40,647.52 L430.04,647.50 L431.67,647.46 L433.30,647.40 L434.92,647.32 L436.53,647.22 L438.14,647.10 L439.74,646.97 L441.33,646.81 L442.92,646.64 L444.49,646.45 L446.06,646.24 L447.62,646.01 L449.17,645.77 L450.71,645.51 L452.24,645.23 L453.76,644.94 L455.27,644.63 L456.77,644.31 L458.26,643.97 L459.74,643.62 L461.21,643.25 L462.67,642.87 L464.11,642.48 L465.55,642.07 L466.97,641.65 L468.39,641.22 L469.79,640.77 L471.17,640.32 L472.55,639.85 L473.91,639.37 L475.26,638.88 L476.60,638.38 L477.93,637.87 L479.24,637.35 L480.54,636.82 L481.83,636.28 L483.11,635.74 L484.37,635.18 L485.62,634.62 L486.85,634.06 L488.08,633.48 L489.29,632.90 L490.48,632.31 L491.67,631.72 L492.84,631.12 L494.00,630.52 L495.14,629.91 L496.27,629.30 L497.39,628.68 L498.50,628.07 L499.59,627.44 L500.68,626.82 L501.74,626.19 L502.80,625.57 L503.84,624.94 L504.88,624.31 L505.89,623.68 L506.90,623.05 L507.90,622.41 L508.88,621.78 L509.85,621.15 L510.81,620.52 L511.76,619.90 L512.70,619.27 L513.63,618.65 L514.55,618.03 L515.46,617.41 L516.35,616.79 L517.24,616.18 L518.12,615.57 L518.98,614.97 L519.84,614.37 L520.69,613.78 L521.53,613.19 L522.37,612.60 L523.19,612.02 L524.01,611.45 L524.82,610.88 L525.62,610.32 L526.41,609.77 L527.20,609.22 L527.98,608.68 L528.76,608.15 L529.53,607.63 L530.30,607.11 L531.06,606.60 L531.82,606.10 L532.57,605.61 L533.32,605.12 L534.06,604.65 L534.80,604.19 L535.54,603.73 L536.28,603.28 L537.02,602.85 L537.75,602.42 L538.49,602.00 L539.22,601.59 L539.95,601.20 L540.68,600.81 L541.42,600.43 L542.15,600.07 L542.89,599.71 L543.63,599.36 L544.37,599.03 L545.11,598.70 L545.86,598.38 L546.61,598.07 L547.36,597.77 L548.12,597.47 L548.88,597.19 L549.64,596.91 L550.41,596.64 L551.18,596.38 L551.96,596.12 L552.75,595.87 L553.54,595.63 L554.33,595.40 L555.13,595.17 L555.94,594.94 L556.75,594.72 L557.58,594.51 L558.40,594.30 L559.24,594.09 L560.08,593.89 L560.93,593.69 L561.78,593.50 L562.65,593.31 L563.52,593.12 L564.40,592.94 L565.29,592.75 L566.19,592.57 L567.09,592.39 L568.01,592.21 L568.93,592.04 L569.86,591.86 L570.80,591.68 L571.75,591.51 L572.71,591.33 L573.68,591.15 L574.66,590.97 L575.64,590.79 L576.64,590.61 L577.64,590.42 L578.66,590.24 L579.68,590.05 L580.71,589.85 L581.76,589.66 L582.81,589.46 L583.87,589.25 L584.94,589.04 L586.03,588.83 L587.12,588.61 L588.22,588.38 L589.33,588.15 L590.45,587.92 L591.58,587.67 L592.71,587.42 L593.86,587.17 L595.02,586.90 L596.18,586.63 L597.36,586.35 L598.54,586.06 L599.73,585.76 L600.93,585.46 L602.14,585.14 L603.36,584.81 L604.59,584.48 L605.82,584.13 L607.07,583.77 L608.32,583.40 L609.58,583.02 L610.84,582.63 L612.12,582.23 L613.40,581.82 L614.69,581.39 L615.98,580.95 L617.29,580.49 L618.60,580.03 L619.91,579.55 L621.23,579.05 L622.56,578.55 L623.90,578.02 L625.24,577.49 L626.58,576.94 L627.93,576.37 L629.29,575.79 L630.64,575.19 L632.01,574.57 L633.38,573.94 L634.75,573.30 L636.12,572.64 L637.50,571.96 L638.88,571.26 L640.27,570.55 L641.66,569.82 L643.05,569.07 L644.44,568.30 L645.83,567.52 L647.23,566.72 L648.62,565.90 L650.02,565.06 L651.41,564.20 L652.81,563.33 L654.21,562.43 L655.60,561.52 L657.00,560.59 L658.39,559.64 L659.78,558.67 L661.18,557.67 L662.56,556.66 L663.95,555.63 L665.33,554.59 L666.71,553.52 L668.09,552.43 L669.46,551.32 L670.83,550.19 L672.19,549.04 L673.55,547.87 L674.90,546.68 L676.25,545.46 L677.59,544.23 L678.93,542.98 L680.25,541.71 L681.58,540.42 L682.89,539.10 L684.19,537.77 L685.49,536.42 L686.78,535.04 L688.06,533.65 L689.33,532.23 L690.59,530.80 L691.84,529.34 L693.08,527.86 L694.30,526.37 L695.52,524.85 L696.72,523.31 L697.92,521.76 L699.10,520.18 L700.27,518.58 L701.42,516.97 L702.56,515.33 L703.69,513.68 L704.80,512.00 Z" fill="none" stroke="rgba(55,126,184,0.85)" stroke-width="3.0" stroke-linejoin="round"/>
<path d="M704.80,512.00 L704.11,510.32 L703.41,508.65 L702.70,507.00 L701.97,505.36 L701.22,503.73 L700.47,502.11 L699.70,500.50 L698.91,498.91 L698.12,497.33 L697.31,495.76 L696.49,494.21 L695.65,492.67 L694.81,491.14 L693.95,489.63 L693.08,488.13 L692.20,486.64 L691.31,485.16 L690.41,483.70 L689.50,482.26 L688.57,480.82 L687.64,479.40 L686.70,477.99 L685.75,476.60 L684.78,475.22 L683.81,473.86 L682.83,472.50 L681.84,471.17 L680.84,469.84 L679.84,468.53 L678.82,467.23 L677.80,465.95 L676.77,464.68 L675.74,463.43 L674.69,462.19 L673.64,460.96 L672.58,459.75 L671.52,458.55 L670.45,457.36 L669.37,456.19 L668.29,455.03 L667.20,453.89 L666.11,452.75 L665.01,451.64 L663.90,450.53 L662.79,449.44 L661.68,448.37 L660.56,447.30 L659.44,446.25 L658.31,445.22 L657.18,444.19 L656.05,443.18 L654.91,442.19 L653.77,441.20 L652.63,440.23 L651.48,439.27 L650.33,438.33 L649.18,437.40 L648.02,436.48 L646.87,435.57 L645.71,434.67 L644.55,433.79 L643.39,432.92 L642.22,432.06 L641.06,431.22 L639.89,430.38 L638.73,429.56 L637.56,428.75 L636.39,427.95 L635.22,427.16 L634.05,426.38 L632.88,425.62 L631.71,424.87 L630.54,424.12 L629.37,423.39 L628.20,422.67 L627.03,421.96 L625.86,421.26 L624.69,420.57 L623.52,419.89 L622.36,419.22 L621.19,418.56 L620.02,417.91 L618.86,417.27 L617.70,416.63 L616.54,416.01 L615.38,415.40 L614.22,414.79 L613.06,414.20 L611.90,413.61 L610.75,413.03 L609.60,412.46 L608.45,411.90 L607.30,411.35 L606.15,410.80 L605.01,410.26 L603.87,409.73 L602.72,409.21 L601.59,408.69 L600.45,408.19 L599.32,407.68 L598.18,407.19 L597.06,406.70 L595.93,406.22 L594.80,405.74 L593.68,405.27 L592.56,404.81 L591.44,404.35 L590.33,403.89 L589.21,403.45 L588.10,403.00 L587.00,402.57 L585.89,402.13 L584.79,401.70 L583.68,401.28 L582.59,400.86 L581.49,400.45 L580.39,400.04 L579.30,399.63 L578.21,399.23 L577.12,398.83 L576.04,398.43 L574.95,398.04 L573.87,397.65 L572.79,397.26 L571.71,396.87 L570.63,396.49 L569.56,396.11 L568.48,395.74 L567.41,395.36 L566.34,394.99 L565.27,394.62 L564.20,394.25 L563.13,393.88 L562.07,393.52 L561.00,393.15 L559.94,392.79 L558.87,392.43 L557.81,392.06 L556.75,391.70 L555.68,391.34 L554.62,390.98 L553.56,390.63 L552.50,390.27 L551.43,389.91 L550.37,389.55 L549.31,389.19 L548.24,388.83 L547.18,388.47 L546.11,388.12 L545.05,387.76 L543.98,387.40 L542.91,387.05 L541.84,386.69 L540.76,386.34 L539.69,385.98 L538.61,385.63 L537.53,385.27 L536.45,384.92 L535.36,384.57 L534.27,384.22 L533.18,383.87 L532.09,383.53 L530.99,383.18 L529.89,382.84 L528.79,382.49 L527.68,382.15 L526.57,381.81 L525.45,381.48 L524.33,381.14 L523.20,380.81 L522.08,380.48 L520.94,380.15 L519.81,379.83 L518.66,379.51 L517.52,379.19 L516.36,378.87 L515.21,378.56 L514.05,378.25 L512.88,377.94 L511.71,377.64 L510.53,377.34 L509.35,377.05 L508.16,376.76 L506.96,376.47 L505.77,376.19 L504.56,375.92 L503.35,375.65 L502.13,375.38 L500.91,375.12 L499.68,374.86 L498.45,374.61 L497.21,374.37 L495.96,374.13 L494.71,373.90 L493.46,373.67 L492.19,373.45 L490.92,373.24 L489.65,373.03 L488.37,372.83 L487.08,372.64 L485.78,372.46 L484.49,372.28 L483.18,372.11 L481.87,371.95 L480.55,371.80 L479.23,371.65 L477.90,371.51 L476.56,371.39 L475.22,371.27 L473.88,371.16 L472.52,371.06 L471.17,370.97 L469.80,370.88 L468.43,370.81 L467.06,370.75 L465.68,370.70 L464.29,370.66 L462.90,370.63 L461.51,370.61 L460.11,370.60 L458.70,370.60 L457.29,370.61 L455.87,370.64 L454.45,370.67 L453.03,370.72 L451.60,370.78 L450.17,370.85 L448.73,370.94 L447.29,371.04 L445.84,371.15 L444.39,371.27 L442.94,371.40 L441.48,371.55 L440.02,371.71 L438.55,371.89 L437.09,372.08 L435.62,372.28 L434.14,372.50 L432.67,372.73 L431.19,372.97 L429.71,373.23 L428.23,373.50 L426.74,373.79 L425.26,374.09 L423.77,374.41 L422.28,374.74 L420.79,375.09 L419.30,375.46 L417.81,375.83 L416.32,376.23 L414.82,376.64 L413.33,377.06 L411.84,377.50 L410.34,377.96 L408.85,378.43 L407.36,378.92 L405.87,379.43 L404.38,379.95 L402.89,380.49 L401.41,381.04 L399.92,381.61 L398.44,382.20 L396.96,382.80 L395.48,383.43 L394.01,384.06 L392.54,384.72 L391.07,385.39 L389.60,386.08 L388.14,386.78 L386.69,387.51 L385.23,388.24 L383.79,389.00 L382.34,389.78 L380.91,390.57 L379.47,391.37 L378.05,392.20 L376.63,393.04 L375.21,393.90 L373.81,394.78 L372.40,395.67 L371.01,396.58 L369.62,397.51 L368.25,398.46 L366.87,399.42 L365.51,400.40 L364.16,401.39 L362.81,402.41 L361.47,403.44 L360.15,404.49 L358.83,405.55 L357.52,406.63 L356.22,407.73 L354.94,408.84 L353.66,409.97 L352.39,411.12 L351.14,412.28 L349.89,413.46 L348.66,414.66 L347.44,415.87 L346.23,417.10 L345.03,418.34 L343.85,419.60 L342.68,420.87 L341.52,422.16 L340.38,423.46 L339.25,424.78 L338.13,426.12 L337.03,427.47 L335.94,428.83 L334.86,430.21 L333.80,431.60 L332.76,433.01 L331.73,434.43 L330.71,435.86 L329.72,437.31 L328.73,438.77 L327.77,440.25 L326.82,441.73 L325.88,443.23 L324.97,444.75 L324.07,446.27 L323.18,447.81 L322.32,449.36 L321.47,450.92 L320.64,452.49 L319.83,454.08 L319.03,455.67 L318.26,457.28 L317.50,458.90 L316.77,460.52 L316.05,462.16 L315.35,463.81 L314.67,465.47 L314.01,467.13 L313.37,468.81 L312.75,470.50 L312.15,472.19 L311.56,473.89 L311.00,475.60 L310.47,477.32 L309.95,479.05 L309.45,480.78 L308.97,482.52 L308.52,484.27 L308.08,486.02 L307.67,487.78 L307.28,489.55 L306.91,491.32 L306.56,493.10 L306.24,494.88 L305.94,496.67 L305.65,498.46 L305.40,500.25 L305.16,502.05 L304.95,503.85 L304.76,505.66 L304.59,507.47 L304.44,509.28 L304.32,511.09 L304.22,512.91 L304.15,514.72 L304.09,516.54 L304.06,518.36 L304.06,520.18 L304.08,522.00 L304.12,523.82 L304.18,525.64 L304.27,527.46 L304.38,529.28 L304.52,531.09 L304.67,532.91 L304.86,534.72 L305.06,536.53 L305.29,538.33 L305.55,540.14 L305.82,541.94 L306.13,543.73 L306.45,545.52 L306.80,547.31 L307.17,549.09 L307.57,550.87 L307.99,552.64 L308.43,554.40 L308.90,556.16 L309.39,557.91 L309.90,559.66 L310.44,561.39 L311.00,563.12 L311.58,564.84 L312.19,566.55 L312.82,568.26 L313.47,569.95 L314.15,571.63 L314.85,573.31 L315.57,574.97 L316.32,576.62 L317.09,578.26 L317.88,579.89 L318.69,581.51 L319.53,583.12 L320.38,584.71 L321.26,586.29 L322.16,587.85 L323.09,589.41 L324.03,590.94 L325.00,592.47 L325.98,593.98 L326.99,595.47 L328.02,596.95 L329.07,598.41 L330.14,599.86 L331.23,601.29 L332.34,602.70 L333.47,604.10 L334.62,605.47 L335.79,606.83 L336.98,608.18 L338.19,609.50 L339.42,610.80 L340.67,612.09 L341.93,613.35 L343.21,614.60 L344.51,615.82 L345.83,617.03 L347.17,618.21 L348.52,619.37 L349.89,620.51 L351.27,621.63 L352.67,622.73 L354.09,623.80 L355.52,624.85 L356.97,625.88 L358.44,626.88 L359.91,627.87 L361.41,628.82 L362.91,629.76 L364.43,630.67 L365.96,631.55 L367.50,632.41 L369.06,633.25 L370.62,634.07 L372.19,634.85 L373.78,635.62 L375.37,636.36 L376.97,637.08 L378.58,637.77 L380.20,638.44 L381.83,639.08 L383.46,639.70 L385.10,640.29 L386.74,640.87 L388.39,641.41 L390.05,641.93 L391.71,642.43 L393.37,642.91 L395.04,643.36 L396.71,643.78 L398.38,644.18 L400.05,644.56 L401.73,644.92 L403.40,645.25 L405.08,645.56 L406.76,645.84 L408.44,646.11 L410.11,646.34 L411.79,646.56 L413.46,646.76 L415.14,646.93 L416.81,647.08 L418.47,647.20 L420.14,647.31 L421.80,647.39 L423.46,647.46 L425.11,647.50 L426.76,647.52 L428.40,647.52 L430.04,647.50 L431.67,647.46 L433.30,647.40 L434.92,647.32 L436.53,647.22 L438.14,647.10 L439.74,646.97 L441.33,646.81 L442.92,646.64 L444.49,646.45 L446.06,646.24 L447.62,646.01 L449.17,645.77 L450.71,645.51 L452.24,645.23 L453.76,644.94 L455.27,644.63 L456.77,644.31 L458.26,643.97 L459.74,643.62 L461.21,643.25 L462.67,642.87 L464.11,642.48 L465.55,642.07 L466.97,641.65 L468.39,641.22 L469.79,640.77 L471.17,640.32 L472.55,639.85 L473.91,639.37 L475.26,638.88 L476.60,638.38 L477.93,637.87 L479.24,637.35 L480.54,636.82 L481.83,636.28 L483.11,635.74 L484.37,635.18 L485.62,634.62 L486.85,634.06 L488.08,633.48 L489.29,632.90 L490.48,632.31 L491.67,631.72 L492.84,631.12 L494.00,630.52 L495.14,629.91 L496.27,629.30 L497.39,628.68 L498.50,628.07 L499.59,627.44 L500.68,626.82 L501.74,626.19 L502.80,625.57 L503.84,624.94 L504.88,624.31 L505.89,623.68 L506.90,623.05 L507.90,622.41 L508.88,621.78 L509.85,621.15 L510.81,620.52 L511.76,619.90 L512.70,619.27 L513.63,618.65 L514.55,618.03 L515.46,617.41 L516.35,616.79 L517.24,616.18 L518.12,615.57 L518.98,614.97 L519.84,614.37 L520.69,613.78 L521.53,613.19 L522.37,612.60 L523.19,612.02 L524.01,611.45 L524.82,610.88 L525.62,610.32 L526.41,609.77 L527.20,609.22 L527.98,608.68 L528.76,608.15 L529.53,607.63 L530.30,607.11 L531.06,606.60 L531.82,606.10 L532.57,605.61 L533.32,605.12 L534.06,604.65 L534.80,604.19 L535.54,603.73 L536.28,603.28 L537.02,602.85 L537.75,602.42 L538.49,602.00 L539.22,601.59 L539.95,601.20 L540.68,600.81 L541.42,600.43 L542.15,600.07 L542.89,599.71 L543.63,599.36 L544.37,599.03 L545.11,598.70 L545.86,598.38 L546.61,598.07 L547.36,597.77 L548.12,597.47 L548.88,597.19 L549.64,596.91 L550.41,596.64 L551.18,596.38 L551.96,596.12 L552.75,595.87 L553.54,595.63 L554.33,595.40 L555.13,595.17 L555.94,594.94 L556.75,594.72 L557.58,594.51 L558.40,594.30 L559.24,594.09 L560.08,593.89 L560.93,593.69 L561.78,593.50 L562.65,593.31 L563.52,593.12 L564.40,592.94 L565.29,592.75 L566.19,592.57 L567.09,592.39 L568.01,592.21 L568.93,592.04 L569.86,591.86 L570.80,591.68 L571.75,591.51 L572.71,591.33 L573.68,591.15 L574.66,590.97 L575.64,590.79 L576.64,590.61 L577.64,590.42 L578.66,590.24 L579.68,590.05 L580.71,589.85 L581.76,589.66 L582.81,589.46 L583.87,589.25 L584.94,589.04 L586.03,588.83 L587.12,588.61 L588.22,588.38 L589.33,588.15 L590.45,587.92 L591.58,587.67 L592.71,587.42 L593.86,587.17 L595.02,586.90 L596.18,586.63 L597.36,586.35 L598.54,586.06 L599.73,585.76 L600.93,585.46 L602.14,585.14 L603.36,584.81 L604.59,584.48 L605.82,584.13 L607.07,583.77 L608.32,583.40 L609.58,583.02 L610.84,582.63 L612.12,582.23 L613.40,581.82 L614.69,581.39 L615.98,580.95 L617.29,580.49 L618.60,580.03 L619.91,579.55 L621.23,579.05 L622.56,578.55 L623.90,578.02 L625.24,577.49 L626.58,576.94 L627.93,576.37 L629.29,575.79 L630.64,575.19 L632.01,574.57 L633.38,573.94 L634.75,573.30 L636.12,572.64 L637.50,571.96 L638.88,571.26 L640.27,570.55 L641.66,569.82 L643.05,569.07 L644.44,568.30 L645.83,567.52 L647.23,566.72 L648.62,565.90 L650.02,565.06 L651.41,564.20 L652.81,563.33 L654.21,562.43 L655.60,561.52 L657.00,560.59 L658.39,559.64 L659.78,558.67 L661.18,557.67 L662.56,556.66 L663.95,555.63 L665.33,554.59 L666.71,553.52 L668.09,552.43 L669.46,551.32 L670.83,550.19 L672.19,549.04 L673.55,547.87 L674.90,546.68 L676.25,545.46 L677.59,544.23 L678.93,542.98 L680.25,541.71 L681.58,540.42 L682.89,539.10 L684.19,537.77 L685.49,536.42 L686.78,535.04 L688.06,533.65 L689.33,532.23 L690.59,530.80 L691.84,529.34 L693.08,527.86 L694.30,526.37 L695.52,524.85 L696.72,523.31 L697.92,521.76 L699.10,520.18 L700.27,518.58 L701.42,516.97 L702.56,515.33 L703.69,513.68 L704.80,512.00 Z" fill="rgba(155,190,220,0.25)" stroke="none"/>
<path d="M707.20,500.40 L697.15,517.80 L717.25,517.80 Z" fill="#fff" stroke="rgba(55,126,184,1)" stroke-width="4.5" stroke-linejoin="miter"/>
<path d="M552.33,376.29 L542.28,393.69 L562.37,393.69 Z" fill="#fff" stroke="rgba(55,126,184,1)" stroke-width="4.5" stroke-linejoin="miter"/>
<path d="M362.09,391.48 L352.04,408.88 L372.13,408.88 Z" fill="#fff" stroke="rgba(55,126,184,1)" stroke-width="4.5" stroke-linejoin="miter"/>
<path d="M355.86,613.84 L345.81,631.24 L365.91,631.24 Z" fill="#fff" stroke="rgba(55,126,184,1)" stroke-width="4.5" stroke-linejoin="miter"/>
<path d="M541.20,590.27 L531.16,607.67 L551.25,607.67 Z" fill="#fff" stroke="rgba(55,126,184,1)" stroke-width="4.5" stroke-linejoin="miter"/>
<path d="M588.50,512.00 L588.44,511.33 L588.38,510.66 L588.32,510.00 L588.25,509.33 L588.17,508.67 L588.09,508.01 L588.00,507.35 L587.91,506.68 L587.81,506.03 L587.71,505.37 L587.61,504.71 L587.50,504.05 L587.39,503.40 L587.27,502.74 L587.15,502.09 L587.03,501.44 L586.90,500.79 L586.77,500.14 L586.64,499.49 L586.50,498.84 L586.37,498.20 L586.23,497.55 L586.08,496.91 L585.94,496.26 L585.79,495.62 L585.64,494.97 L585.49,494.33 L585.34,493.69 L585.19,493.05 L585.03,492.40 L584.87,491.76 L584.72,491.12 L584.56,490.48 L584.40,489.83 L584.24,489.19 L584.08,488.55 L583.92,487.90 L583.76,487.26 L583.59,486.61 L583.43,485.96 L583.27,485.31 L583.11,484.66 L582.94,484.01 L582.78,483.36 L582.62,482.70 L582.46,482.05 L582.29,481.39 L582.13,480.73 L581.97,480.06 L581.81,479.40 L581.65,478.73 L581.49,478.05 L581.33,477.38 L581.17,476.70 L581.02,476.01 L580.86,475.33 L580.70,474.64 L580.55,473.94 L580.39,473.24 L580.24,472.54 L580.08,471.83 L579.93,471.11 L579.78,470.39 L579.63,469.67 L579.48,468.94 L579.33,468.20 L579.18,467.46 L579.03,466.71 L578.88,465.95 L578.74,465.19 L578.59,464.42 L578.44,463.64 L578.29,462.85 L578.15,462.06 L578.00,461.26 L577.86,460.45 L577.71,459.63 L577.56,458.81 L577.41,457.97 L577.27,457.13 L577.12,456.27 L576.97,455.41 L576.82,454.54 L576.67,453.65 L576.52,452.76 L576.37,451.85 L576.21,450.94 L576.05,450.01 L575.90,449.07 L575.74,448.12 L575.57,447.16 L575.41,446.19 L575.24,445.20 L575.07,444.21 L574.90,443.20 L574.72,442.17 L574.54,441.14 L574.36,440.09 L574.17,439.03 L573.98,437.95 L573.79,436.86 L573.59,435.75 L573.38,434.64 L573.17,433.50 L572.95,432.35 L572.73,431.19 L572.50,430.01 L572.27,428.82 L572.03,427.61 L571.78,426.39 L571.52,425.15 L571.26,423.89 L570.99,422.62 L570.70,421.33 L570.42,420.02 L570.12,418.70 L569.81,417.36 L569.49,416.01 L569.16,414.63 L568.83,413.24 L568.48,411.84 L568.11,410.41 L567.74,408.97 L567.36,407.51 L566.96,406.03 L566.55,404.54 L566.12,403.02 L565.69,401.49 L565.23,399.94 L564.77,398.38 L564.28,396.79 L563.79,395.19 L563.27,393.56 L562.74,391.92 L562.19,390.26 L561.63,388.58 L561.04,386.89 L560.44,385.17 L559.82,383.44 L559.18,381.69 L558.52,379.91 L557.84,378.13 L557.14,376.32 L556.41,374.49 L555.67,372.65 L554.90,370.78 L554.11,368.90 L553.29,367.01 L552.45,365.10 L551.59,363.17 L550.70,361.23 L549.78,359.27 L548.84,357.30 L547.86,355.32 L546.86,353.33 L545.83,351.32 L544.78,349.31 L543.69,347.29 L542.57,345.26 L541.42,343.22 L540.24,341.17 L539.03,339.11 L537.79,337.06 L536.52,334.99 L535.21,332.92 L533.87,330.85 L532.50,328.78 L531.09,326.71 L529.65,324.63 L528.18,322.56 L526.67,320.48 L525.13,318.41 L523.55,316.34 L521.94,314.28 L520.30,312.22 L518.62,310.17 L516.90,308.12 L515.15,306.08 L513.36,304.04 L511.54,302.02 L509.68,300.01 L507.79,298.01 L505.86,296.02 L503.90,294.04 L501.90,292.07 L499.87,290.12 L497.80,288.19 L495.70,286.27 L493.56,284.37 L491.39,282.49 L489.18,280.62 L486.94,278.78 L484.66,276.96 L482.35,275.15 L480.01,273.38 L477.63,271.62 L475.22,269.89 L472.78,268.18 L470.31,266.50 L467.80,264.85 L465.26,263.22 L462.70,261.63 L460.10,260.06 L457.47,258.52 L454.81,257.02 L452.12,255.54 L449.40,254.10 L446.65,252.69 L443.88,251.32 L441.08,249.98 L438.25,248.68 L435.39,247.41 L432.51,246.18 L429.61,244.99 L426.68,243.84 L423.73,242.73 L420.75,241.66 L417.76,240.63 L414.74,239.64 L411.70,238.69 L408.64,237.79 L405.56,236.93 L402.46,236.11 L399.35,235.34 L396.22,234.62 L393.07,233.94 L389.91,233.30 L386.73,232.72 L383.54,232.18 L380.34,231.69 L377.12,231.25 L373.90,230.86 L370.66,230.52 L367.42,230.23 L364.17,229.99 L360.91,229.80 L357.65,229.66 L354.38,229.57 L351.11,229.54 L347.83,229.56 L344.56,229.63 L341.28,229.75 L338.00,229.93 L334.73,230.16 L331.45,230.45 L328.18,230.79 L324.92,231.18 L321.66,231.63 L318.41,232.14 L315.16,232.70 L311.93,233.31 L308.71,233.98 L305.49,234.71 L302.29,235.49 L299.11,236.32 L295.94,237.22 L292.78,238.16 L289.64,239.16 L286.52,240.22 L283.43,241.33 L280.35,242.50 L277.29,243.73 L274.26,245.00 L271.25,246.34 L268.27,247.72 L265.31,249.17 L262.38,250.66 L259.49,252.21 L256.62,253.82 L253.78,255.47 L250.98,257.18 L248.21,258.94 L245.48,260.76 L242.79,262.62 L240.13,264.54 L237.51,266.51 L234.93,268.53 L232.40,270.60 L229.90,272.71 L227.45,274.88 L225.05,277.09 L222.69,279.36 L220.38,281.67 L218.12,284.02 L215.91,286.42 L213.75,288.87 L211.64,291.36 L209.58,293.89 L207.58,296.47 L205.64,299.09 L203.75,301.74 L201.91,304.44 L200.13,307.17 L198.41,309.94 L196.74,312.74 L195.13,315.58 L193.58,318.45 L192.09,321.35 L190.65,324.28 L189.27,327.23 L187.94,330.22 L186.68,333.23 L185.47,336.26 L184.32,339.32 L183.23,342.40 L182.20,345.50 L181.23,348.62 L180.31,351.76 L179.45,354.91 L178.65,358.08 L177.91,361.27 L177.22,364.46 L176.59,367.67 L176.02,370.90 L175.51,374.13 L175.05,377.37 L174.66,380.61 L174.31,383.87 L174.03,387.13 L173.80,390.39 L173.62,393.66 L173.51,396.93 L173.44,400.19 L173.43,403.46 L173.48,406.73 L173.58,410.00 L173.73,413.26 L173.94,416.52 L174.20,419.77 L174.51,423.02 L174.88,426.26 L175.29,429.49 L175.76,432.71 L176.28,435.92 L176.84,439.13 L177.46,442.32 L178.12,445.49 L178.83,448.66 L179.59,451.81 L180.40,454.94 L181.25,458.06 L182.15,461.16 L183.10,464.24 L184.08,467.31 L185.11,470.36 L186.19,473.38 L187.31,476.39 L188.46,479.38 L189.66,482.34 L190.90,485.28 L192.18,488.20 L193.50,491.10 L194.85,493.97 L196.24,496.81 L197.67,499.63 L199.14,502.43 L200.63,505.20 L202.17,507.94 L203.73,510.65 L205.33,513.34 L206.96,516.00 L208.62,518.63 L210.31,521.23 L212.03,523.80 L213.78,526.34 L215.55,528.86 L217.35,531.34 L219.18,533.79 L221.03,536.21 L222.91,538.60 L224.81,540.96 L226.73,543.29 L228.67,545.58 L230.64,547.84 L232.62,550.08 L234.62,552.27 L236.64,554.44 L238.68,556.58 L240.73,558.68 L242.80,560.75 L244.89,562.79 L246.98,564.79 L249.09,566.76 L251.22,568.70 L253.35,570.61 L255.50,572.49 L257.65,574.33 L259.81,576.14 L261.98,577.92 L264.16,579.67 L266.35,581.38 L268.54,583.07 L270.73,584.72 L272.93,586.34 L275.13,587.94 L277.33,589.50 L279.54,591.03 L281.75,592.53 L283.95,594.00 L286.16,595.44 L288.37,596.86 L290.57,598.24 L292.77,599.60 L294.96,600.93 L297.16,602.23 L299.34,603.51 L301.53,604.76 L303.70,605.98 L305.87,607.18 L308.03,608.35 L310.19,609.50 L312.33,610.62 L314.47,611.73 L316.59,612.80 L318.71,613.86 L320.81,614.90 L322.91,615.91 L324.99,616.91 L327.06,617.88 L329.11,618.84 L331.15,619.77 L333.18,620.69 L335.20,621.60 L337.20,622.48 L339.18,623.36 L341.15,624.21 L343.10,625.06 L345.04,625.89 L346.95,626.70 L348.86,627.51 L350.74,628.30 L352.61,629.09 L354.46,629.86 L356.29,630.63 L358.11,631.38 L359.91,632.13 L361.69,632.87 L363.46,633.60 L365.21,634.33 L366.94,635.04 L368.66,635.75 L370.37,636.46 L372.06,637.16 L373.74,637.85 L375.40,638.53 L377.05,639.22 L378.69,639.89 L380.31,640.56 L381.92,641.23 L383.52,641.89 L385.11,642.55 L386.69,643.20 L388.25,643.85 L389.81,644.49 L391.35,645.14 L392.88,645.77 L394.41,646.41 L395.92,647.04 L397.43,647.67 L398.92,648.30 L400.41,648.92 L401.89,649.54 L403.36,650.16 L404.83,650.78 L406.29,651.39 L407.74,652.00 L409.18,652.61 L410.62,653.22 L412.05,653.82 L413.48,654.42 L414.90,655.02 L416.32,655.62 L417.73,656.21 L419.14,656.81 L420.54,657.40 L421.95,657.99 L423.34,658.57 L424.74,659.16 L426.13,659.74 L427.52,660.32 L428.90,660.90 L430.29,661.47 L431.67,662.04 L433.05,662.61 L434.43,663.18 L435.81,663.74 L437.19,664.30 L438.57,664.85 L439.94,665.41 L441.32,665.96 L442.70,666.50 L444.08,667.04 L445.45,667.58 L446.83,668.12 L448.22,668.65 L449.60,669.17 L450.98,669.69 L452.36,670.21 L453.75,670.72 L455.14,671.22 L456.53,671.72 L457.92,672.22 L459.32,672.71 L460.71,673.19 L462.11,673.67 L463.52,674.14 L464.92,674.60 L466.33,675.06 L467.74,675.50 L469.16,675.95 L470.57,676.38 L472.00,676.81 L473.42,677.22 L474.85,677.63 L476.28,678.03 L477.71,678.43 L479.15,678.81 L480.59,679.18 L482.04,679.55 L483.49,679.90 L484.94,680.24 L486.39,680.57 L487.85,680.90 L489.32,681.21 L490.78,681.51 L492.25,681.79 L493.72,682.07 L495.20,682.33 L496.68,682.59 L498.16,682.82 L499.65,683.05 L501.13,683.26 L502.63,683.46 L504.12,683.65 L505.62,683.82 L507.11,683.97 L508.62,684.12 L510.12,684.24 L511.62,684.35 L513.13,684.45 L514.64,684.53 L516.15,684.60 L517.66,684.64 L519.17,684.68 L520.68,684.69 L522.20,684.69 L523.71,684.67 L525.23,684.63 L526.74,684.58 L528.25,684.51 L529.77,684.42 L531.28,684.31 L532.79,684.18 L534.30,684.04 L535.81,683.87 L537.31,683.69 L538.81,683.48 L540.31,683.26 L541.81,683.01 L543.31,682.75 L544.80,682.47 L546.28,682.16 L547.76,681.84 L549.24,681.49 L550.71,681.12 L552.18,680.74 L553.64,680.33 L555.09,679.90 L556.54,679.44 L557.98,678.97 L559.41,678.47 L560.84,677.96 L562.25,677.42 L563.66,676.86 L565.06,676.27 L566.45,675.67 L567.82,675.04 L569.19,674.39 L570.55,673.72 L571.89,673.02 L573.23,672.31 L574.55,671.58 L575.86,670.82 L577.16,670.04 L578.45,669.25 L579.72,668.43 L580.98,667.60 L582.22,666.74 L583.46,665.87 L584.67,664.98 L585.88,664.07 L587.06,663.14 L588.24,662.19 L589.40,661.23 L590.54,660.25 L591.67,659.25 L592.78,658.24 L593.87,657.20 L594.95,656.16 L596.01,655.09 L597.06,654.02 L598.08,652.92 L599.09,651.82 L600.09,650.69 L601.06,649.56 L602.02,648.41 L602.96,647.25 L603.88,646.07 L604.78,644.88 L605.66,643.68 L606.53,642.47 L607.37,641.24 L608.20,640.00 L609.01,638.76 L609.80,637.50 L610.56,636.23 L611.31,634.95 L612.04,633.67 L612.75,632.37 L613.44,631.06 L614.11,629.75 L614.76,628.42 L615.39,627.09 L616.00,625.76 L616.59,624.41 L617.15,623.06 L617.70,621.70 L618.23,620.34 L618.73,618.97 L619.22,617.59 L619.68,616.21 L620.12,614.82 L620.55,613.43 L620.95,612.04 L621.33,610.64 L621.69,609.24 L622.03,607.84 L622.35,606.43 L622.64,605.03 L622.92,603.62 L623.18,602.20 L623.41,600.79 L623.63,599.38 L623.82,597.96 L623.99,596.55 L624.14,595.14 L624.27,593.72 L624.39,592.31 L624.48,590.90 L624.55,589.49 L624.59,588.08 L624.62,586.68 L624.63,585.27 L624.62,583.87 L624.59,582.48 L624.54,581.08 L624.47,579.69 L624.38,578.31 L624.26,576.93 L624.13,575.55 L623.99,574.18 L623.82,572.81 L623.63,571.45 L623.42,570.10 L623.20,568.75 L622.95,567.41 L622.69,566.07 L622.41,564.75 L622.11,563.43 L621.79,562.11 L621.45,560.81 L621.10,559.51 L620.73,558.23 L620.34,556.95 L619.94,555.68 L619.51,554.42 L619.08,553.17 L618.62,551.92 L618.15,550.69 L617.66,549.47 L617.15,548.26 L616.63,547.06 L616.10,545.87 L615.55,544.70 L614.98,543.53 L614.40,542.38 L613.80,541.23 L613.19,540.10 L612.57,538.99 L611.93,537.88 L611.28,536.79 L610.61,535.71 L609.94,534.64 L609.24,533.59 L608.54,532.55 L607.82,531.52 L607.09,530.51 L606.35,529.51 L605.60,528.53 L604.83,527.56 L604.06,526.60 L603.27,525.66 L602.47,524.73 L601.67,523.82 L600.85,522.92 L600.02,522.04 L599.19,521.18 L598.34,520.33 L597.48,519.49 L596.62,518.67 L595.75,517.86 L594.87,517.08 L593.98,516.30 L593.08,515.55 L592.18,514.80 L591.27,514.08 L590.35,513.37 L589.43,512.68 L588.50,512.00 Z" fill="none" stroke="rgba(228,26,28,0.85)" stroke-width="3.0" stroke-linejoin="round"/>
<path d="M588.50,512.00 L588.44,511.33 L588.38,510.66 L588.32,510.00 L588.25,509.33 L588.17,508.67 L588.09,508.01 L588.00,507.35 L587.91,506.68 L587.81,506.03 L587.71,505.37 L587.61,504.71 L587.50,504.05 L587.39,503.40 L587.27,502.74 L587.15,502.09 L587.03,501.44 L586.90,500.79 L586.77,500.14 L586.64,499.49 L586.50,498.84 L586.37,498.20 L586.23,497.55 L586.08,496.91 L585.94,496.26 L585.79,495.62 L585.64,494.97 L585.49,494.33 L585.34,493.69 L585.19,493.05 L585.03,492.40 L584.87,491.76 L584.72,491.12 L584.56,490.48 L584.40,489.83 L584.24,489.19 L584.08,488.55 L583.92,487.90 L583.76,487.26 L583.59,486.61 L583.43,485.96 L583.27,485.31 L583.11,484.66 L582.94,484.01 L582.78,483.36 L582.62,482.70 L582.46,482.05 L582.29,481.39 L582.13,480.73 L581.97,480.06 L581.81,479.40 L581.65,478.73 L581.49,478.05 L581.33,477.38 L581.17,476.70 L581.02,476.01 L580.86,475.33 L580.70,474.64 L580.55,473.94 L580.39,473.24 L580.24,472.54 L580.08,471.83 L579.93,471.11 L579.78,470.39 L579.63,469.67 L579.48,468.94 L579.33,468.20 L579.18,467.46 L579.03,466.71 L578.88,465.95 L578.74,465.19 L578.59,464.42 L578.44,463.64 L578.29,462.85 L578.15,462.06 L578.00,461.26 L577.86,460.45 L577.71,459.63 L577.56,458.81 L577.41,457.97 L577.27,457.13 L577.12,456.27 L576.97,455.41 L576.82,454.54 L576.67,453.65 L576.52,452.76 L576.37,451.85 L576.21,450.94 L576.05,450.01 L575.90,449.07 L575.74,448.12 L575.57,447.16 L575.41,446.19 L575.24,445.20 L575.07,444.21 L574.90,443.20 L574.72,442.17 L574.54,441.14 L574.36,440.09 L574.17,439.03 L573.98,437.95 L573.79,436.86 L573.59,435.75 L573.38,434.64 L573.17,433.50 L572.95,432.35 L572.73,431.19 L572.50,430.01 L572.27,428.82 L572.03,427.61 L571.78,426.39 L571.52,425.15 L571.26,423.89 L570.99,422.62 L570.70,421.33 L570.42,420.02 L570.12,418.70 L569.81,417.36 L569.49,416.01 L569.16,414.63 L568.83,413.24 L568.48,411.84 L568.11,410.41 L567.74,408.97 L567.36,407.51 L566.96,406.03 L566.55,404.54 L566.12,403.02 L565.69,401.49 L565.23,399.94 L564.77,398.38 L564.28,396.79 L563.79,395.19 L563.27,393.56 L562.74,391.92 L562.19,390.26 L561.63,388.58 L561.04,386.89 L560.44,385.17 L559.82,383.44 L559.18,381.69 L558.52,379.91 L557.84,378.13 L557.14,376.32 L556.41,374.49 L555.67,372.65 L554.90,370.78 L554.11,368.90 L553.29,367.01 L552.45,365.10 L551.59,363.17 L550.70,361.23 L549.78,359.27 L548.84,357.30 L547.86,355.32 L546.86,353.33 L545.83,351.32 L544.78,349.31 L543.69,347.29 L542.57,345.26 L541.42,343.22 L540.24,341.17 L539.03,339.11 L537.79,337.06 L536.52,334.99 L535.21,332.92 L533.87,330.85 L532.50,328.78 L531.09,326.71 L529.65,324.63 L528.18,322.56 L526.67,320.48 L525.13,318.41 L523.55,316.34 L521.94,314.28 L520.30,312.22 L518.62,310.17 L516.90,308.12 L515.15,306.08 L513.36,304.04 L511.54,302.02 L509.68,300.01 L507.79,298.01 L505.86,296.02 L503.90,294.04 L501.90,292.07 L499.87,290.12 L497.80,288.19 L495.70,286.27 L493.56,284.37 L491.39,282.49 L489.18,280.62 L486.94,278.78 L484.66,276.96 L482.35,275.15 L480.01,273.38 L477.63,271.62 L475.22,269.89 L472.78,268.18 L470.31,266.50 L467.80,264.85 L465.26,263.22 L462.70,261.63 L460.10,260.06 L457.47,258.52 L454.81,257.02 L452.12,255.54 L449.40,254.10 L446.65,252.69 L443.88,251.32 L441.08,249.98 L438.25,248.68 L435.39,247.41 L432.51,246.18 L429.61,244.99 L426.68,243.84 L423.73,242.73 L420.75,241.66 L417.76,240.63 L414.74,239.64 L411.70,238.69 L408.64,237.79 L405.56,236.93 L402.46,236.11 L399.35,235.34 L396.22,234.62 L393.07,233.94 L389.91,233.30 L386.73,232.72 L383.54,232.18 L380.34,231.69 L377.12,231.25 L373.90,230.86 L370.66,230.52 L367.42,230.23 L364.17,229.99 L360.91,229.80 L357.65,229.66 L354.38,229.57 L351.11,229.54 L347.83,229.56 L344.56,229.63 L341.28,229.75 L338.00,229.93 L334.73,230.16 L331.45,230.45 L328.18,230.79 L324.92,231.18 L321.66,231.63 L318.41,232.14 L315.16,232.70 L311.93,233.31 L308.71,233.98 L305.49,234.71 L302.29,235.49 L299.11,236.32 L295.94,237.22 L292.78,238.16 L289.64,239.16 L286.52,240.22 L283.43,241.33 L280.35,242.50 L277.29,243.73 L274.26,245.00 L271.25,246.34 L268.27,247.72 L265.31,249.17 L262.38,250.66 L259.49,252.21 L256.62,253.82 L253.78,255.47 L250.98,257.18 L248.21,258.94 L245.48,260.76 L242.79,262.62 L240.13,264.54 L237.51,266.51 L234.93,268.53 L232.40,270.60 L229.90,272.71 L227.45,274.88 L225.05,277.09 L222.69,279.36 L220.38,281.67 L218.12,284.02 L215.91,286.42 L213.75,288.87 L211.64,291.36 L209.58,293.89 L207.58,296.47 L205.64,299.09 L203.75,301.74 L201.91,304.44 L200.13,307.17 L198.41,309.94 L196.74,312.74 L195.13,315.58 L193.58,318.45 L192.09,321.35 L190.65,324.28 L189.27,327.23 L187.94,330.22 L186.68,333.23 L185.47,336.26 L184.32,339.32 L183.23,342.40 L182.20,345.50 L181.23,348.62 L180.31,351.76 L179.45,354.91 L178.65,358.08 L177.91,361.27 L177.22,364.46 L176.59,367.67 L176.02,370.90 L175.51,374.13 L175.05,377.37 L174.66,380.61 L174.31,383.87 L174.03,387.13 L173.80,390.39 L173.62,393.66 L173.51,396.93 L173.44,400.19 L173.43,403.46 L173.48,406.73 L173.58,410.00 L173.73,413.26 L173.94,416.52 L174.20,419.77 L174.51,423.02 L174.88,426.26 L175.29,429.49 L175.76,432.71 L176.28,435.92 L176.84,439.13 L177.46,442.32 L178.12,445.49 L178.83,448.66 L179.59,451.81 L180.40,454.94 L181.25,458.06 L182.15,461.16 L183.10,464.24 L184.08,467.31 L185.11,470.36 L186.19,473.38 L187.31,476.39 L188.46,479.38 L189.66,482.34 L190.90,485.28 L192.18,488.20 L193.50,491.10 L194.85,493.97 L196.24,496.81 L197.67,499.63 L199.14,502.43 L200.63,505.20 L202.17,507.94 L203.73,510.65 L205.33,513.34 L206.96,516.00 L208.62,518.63 L210.31,521.23 L212.03,523.80 L213.78,526.34 L215.55,528.86 L217.35,531.34 L219.18,533.79 L221.03,536.21 L222.91,538.60 L224.81,540.96 L226.73,543.29 L228.67,545.58 L230.64,547.84 L232.62,550.08 L234.62,552.27 L236.64,554.44 L238.68,556.58 L240.73,558.68 L242.80,560.75 L244.89,562.79 L246.98,564.79 L249.09,566.76 L251.22,568.70 L253.35,570.61 L255.50,572.49 L257.65,574.33 L259.81,576.14 L261.98,577.92 L264.16,579.67 L266.35,581.38 L268.54,583.07 L270.73,584.72 L272.93,586.34 L275.13,587.94 L277.33,589.50 L279.54,591.03 L281.75,592.53 L283.95,594.00 L286.16,595.44 L288.37,596.86 L290.57,598.24 L292.77,599.60 L294.96,600.93 L297.16,602.23 L299.34,603.51 L301.53,604.76 L303.70,605.98 L305.87,607.18 L308.03,608.35 L310.19,609.50 L312.33,610.62 L314.47,611.73 L316.59,612.80 L318.71,613.86 L320.81,614.90 L322.91,615.91 L324.99,616.91 L327.06,617.88 L329.11,618.84 L331.15,619.77 L333.18,620.69 L335.20,621.60 L337.20,622.48 L339.18,623.36 L341.15,624.21 L343.10,625.06 L345.04,625.89 L346.95,626.70 L348.86,627.51 L350.74,628.30 L352.61,629.09 L354.46,629.86 L356.29,630.63 L358.11,631.38 L359.91,632.13 L361.69,632.87 L363.46,633.60 L365.21,634.33 L366.94,635.04 L368.66,635.75 L370.37,636.46 L372.06,637.16 L373.74,637.85 L375.40,638.53 L377.05,639.22 L378.69,639.89 L380.31,640.56 L381.92,641.23 L383.52,641.89 L385.11,642.55 L386.69,643.20 L388.25,643.85 L389.81,644.49 L391.35,645.14 L392.88,645.77 L394.41,646.41 L395.92,647.04 L397.43,647.67 L398.92,648.30 L400.41,648.92 L401.89,649.54 L403.36,650.16 L404.83,650.78 L406.29,651.39 L407.74,652.00 L409.18,652.61 L410.62,653.22 L412.05,653.82 L413.48,654.42 L414.90,655.02 L416.32,655.62 L417.73,656.21 L419.14,656.81 L420.54,657.40 L421.95,657.99 L423.34,658.57 L424.74,659.16 L426.13,659.74 L427.52,660.32 L428.90,660.90 L430.29,661.47 L431.67,662.04 L433.05,662.61 L434.43,663.18 L435.81,663.74 L437.19,664.30 L438.57,664.85 L439.94,665.41 L441.32,665.96 L442.70,666.50 L444.08,667.04 L445.45,667.58 L446.83,668.12 L448.22,668.65 L449.60,669.17 L450.98,669.69 L452.36,670.21 L453.75,670.72 L455.14,671.22 L456.53,671.72 L457.92,672.22 L459.32,672.71 L460.71,673.19 L462.11,673.67 L463.52,674.14 L464.92,674.60 L466.33,675.06 L467.74,675.50 L469.16,675.95 L470.57,676.38 L472.00,676.81 L473.42,677.22 L474.85,677.63 L476.28,678.03 L477.71,678.43 L479.15,678.81 L480.59,679.18 L482.04,679.55 L483.49,679.90 L484.94,680.24 L486.39,680.57 L487.85,680.90 L489.32,681.21 L490.78,681.51 L492.25,681.79 L493.72,682.07 L495.20,682.33 L496.68,682.59 L498.16,682.82 L499.65,683.05 L501.13,683.26 L502.63,683.46 L504.12,683.65 L505.62,683.82 L507.11,683.97 L508.62,684.12 L510.12,684.24 L511.62,684.35 L513.13,684.45 L514.64,684.53 L516.15,684.60 L517.66,684.64 L519.17,684.68 L520.68,684.69 L522.20,684.69 L523.71,684.67 L525.23,684.63 L526.74,684.58 L528.25,684.51 L529.77,684.42 L531.28,684.31 L532.79,684.18 L534.30,684.04 L535.81,683.87 L537.31,683.69 L538.81,683.48 L540.31,683.26 L541.81,683.01 L543.31,682.75 L544.80,682.47 L546.28,682.16 L547.76,681.84 L549.24,681.49 L550.71,681.12 L552.18,680.74 L553.64,680.33 L555.09,679.90 L556.54,679.44 L557.98,678.97 L559.41,678.47 L560.84,677.96 L562.25,677.42 L563.66,676.86 L565.06,676.27 L566.45,675.67 L567.82,675.04 L569.19,674.39 L570.55,673.72 L571.89,673.02 L573.23,672.31 L574.55,671.58 L575.86,670.82 L577.16,670.04 L578.45,669.25 L579.72,668.43 L580.98,667.60 L582.22,666.74 L583.46,665.87 L584.67,664.98 L585.88,664.07 L587.06,663.14 L588.24,662.19 L589.40,661.23 L590.54,660.25 L591.67,659.25 L592.78,658.24 L593.87,657.20 L594.95,656.16 L596.01,655.09 L597.06,654.02 L598.08,652.92 L599.09,651.82 L600.09,650.69 L601.06,649.56 L602.02,648.41 L602.96,647.25 L603.88,646.07 L604.78,644.88 L605.66,643.68 L606.53,642.47 L607.37,641.24 L608.20,640.00 L609.01,638.76 L609.80,637.50 L610.56,636.23 L611.31,634.95 L612.04,633.67 L612.75,632.37 L613.44,631.06 L614.11,629.75 L614.76,628.42 L615.39,627.09 L616.00,625.76 L616.59,624.41 L617.15,623.06 L617.70,621.70 L618.23,620.34 L618.73,618.97 L619.22,617.59 L619.68,616.21 L620.12,614.82 L620.55,613.43 L620.95,612.04 L621.33,610.64 L621.69,609.24 L622.03,607.84 L622.35,606.43 L622.64,605.03 L622.92,603.62 L623.18,602.20 L623.41,600.79 L623.63,599.38 L623.82,597.96 L623.99,596.55 L624.14,595.14 L624.27,593.72 L624.39,592.31 L624.48,590.90 L624.55,589.49 L624.59,588.08 L624.62,586.68 L624.63,585.27 L624.62,583.87 L624.59,582.48 L624.54,581.08 L624.47,579.69 L624.38,578.31 L624.26,576.93 L624.13,575.55 L623.99,574.18 L623.82,572.81 L623.63,571.45 L623.42,570.10 L623.20,568.75 L622.95,567.41 L622.69,566.07 L622.41,564.75 L622.11,563.43 L621.79,562.11 L621.45,560.81 L621.10,559.51 L620.73,558.23 L620.34,556.95 L619.94,555.68 L619.51,554.42 L619.08,553.17 L618.62,551.92 L618.15,550.69 L617.66,549.47 L617.15,548.26 L616.63,547.06 L616.10,545.87 L615.55,544.70 L614.98,543.53 L614.40,542.38 L613.80,541.23 L613.19,540.10 L612.57,538.99 L611.93,537.88 L611.28,536.79 L610.61,535.71 L609.94,534.64 L609.24,533.59 L608.54,532.55 L607.82,531.52 L607.09,530.51 L606.35,529.51 L605.60,528.53 L604.83,527.56 L604.06,526.60 L603.27,525.66 L602.47,524.73 L601.67,523.82 L600.85,522.92 L600.02,522.04 L599.19,521.18 L598.34,520.33 L597.48,519.49 L596.62,518.67 L595.75,517.86 L594.87,517.08 L593.98,516.30 L593.08,515.55 L592.18,514.80 L591.27,514.08 L590.35,513.37 L589.43,512.68 L588.50,512.00 Z" fill="rgba(242,140,142,0.25)" stroke="none"/>
<path d="M611.60,512.00 L611.72,511.13 L611.84,510.25 L611.95,509.38 L612.05,508.50 L612.15,507.62 L612.24,506.74 L612.32,505.86 L612.39,504.97 L612.46,504.08 L612.52,503.19 L612.57,502.30 L612.62,501.41 L612.66,500.52 L612.69,499.62 L612.72,498.72 L612.74,497.82 L612.76,496.92 L612.77,496.02 L612.77,495.11 L612.77,494.21 L612.76,493.30 L612.75,492.39 L612.73,491.48 L612.71,490.56 L612.68,489.65 L612.64,488.73 L612.60,487.81 L612.56,486.89 L612.51,485.97 L612.45,485.04 L612.39,484.12 L612.33,483.19 L612.26,482.26 L612.18,481.33 L612.10,480.39 L612.02,479.45 L611.93,478.51 L611.84,477.57 L611.74,476.63 L611.64,475.68 L611.53,474.73 L611.42,473.78 L611.31,472.82 L611.19,471.86 L611.07,470.90 L610.94,469.94 L610.81,468.97 L610.68,468.00 L610.54,467.02 L610.39,466.05 L610.25,465.06 L610.10,464.08 L609.94,463.09 L609.78,462.10 L609.62,461.10 L609.45,460.10 L609.28,459.09 L609.11,458.08 L608.93,457.07 L608.75,456.05 L608.56,455.03 L608.37,454.00 L608.17,452.96 L607.98,451.92 L607.77,450.88 L607.56,449.83 L607.35,448.78 L607.14,447.71 L606.92,446.65 L606.69,445.58 L606.46,444.50 L606.23,443.41 L605.99,442.32 L605.75,441.22 L605.50,440.12 L605.25,439.01 L604.99,437.89 L604.73,436.76 L604.46,435.63 L604.19,434.49 L603.91,433.34 L603.63,432.19 L603.34,431.03 L603.04,429.86 L602.74,428.68 L602.44,427.49 L602.12,426.30 L601.80,425.09 L601.48,423.88 L601.15,422.66 L600.81,421.43 L600.46,420.19 L600.11,418.94 L599.75,417.68 L599.38,416.42 L599.01,415.14 L598.62,413.86 L598.23,412.56 L597.83,411.26 L597.43,409.94 L597.01,408.61 L596.59,407.28 L596.15,405.93 L595.71,404.58 L595.26,403.21 L594.80,401.83 L594.32,400.44 L593.84,399.04 L593.35,397.63 L592.84,396.21 L592.33,394.78 L591.80,393.34 L591.27,391.88 L590.72,390.42 L590.16,388.94 L589.58,387.45 L589.00,385.95 L588.40,384.44 L587.79,382.91 L587.16,381.38 L586.52,379.83 L585.87,378.27 L585.20,376.70 L584.52,375.11 L583.82,373.52 L583.11,371.91 L582.38,370.29 L581.64,368.66 L580.88,367.02 L580.10,365.36 L579.30,363.69 L578.49,362.01 L577.66,360.32 L576.81,358.62 L575.95,356.90 L575.06,355.17 L574.16,353.43 L573.23,351.68 L572.29,349.92 L571.32,348.14 L570.34,346.35 L569.33,344.55 L568.31,342.74 L567.26,340.92 L566.19,339.09 L565.09,337.24 L563.97,335.39 L562.83,333.52 L561.67,331.65 L560.47,329.76 L559.26,327.87 L558.02,325.98 L556.75,324.07 L555.45,322.16 L554.13,320.24 L552.78,318.32 L551.41,316.40 L550.00,314.47 L548.57,312.54 L547.11,310.60 L545.62,308.67 L544.10,306.73 L542.55,304.79 L540.97,302.86 L539.36,300.92 L537.72,298.99 L536.05,297.06 L534.35,295.13 L532.61,293.21 L530.85,291.30 L529.06,289.38 L527.23,287.48 L525.37,285.58 L523.48,283.69 L521.56,281.81 L519.61,279.94 L517.62,278.08 L515.61,276.23 L513.56,274.39 L511.48,272.57 L509.36,270.76 L507.22,268.96 L505.04,267.17 L502.84,265.41 L500.60,263.66 L498.33,261.92 L496.03,260.21 L493.69,258.51 L491.33,256.83 L488.93,255.18 L486.51,253.54 L484.05,251.93 L481.57,250.34 L479.05,248.77 L476.50,247.22 L473.93,245.71 L471.32,244.21 L468.69,242.75 L466.03,241.31 L463.34,239.89 L460.62,238.51 L457.88,237.16 L455.10,235.83 L452.31,234.54 L449.48,233.28 L446.63,232.05 L443.75,230.85 L440.85,229.68 L437.93,228.55 L434.98,227.46 L432.01,226.40 L429.01,225.38 L426.00,224.39 L422.96,223.44 L419.90,222.53 L416.82,221.66 L413.72,220.83 L410.60,220.03 L407.47,219.28 L404.31,218.57 L401.14,217.90 L397.95,217.27 L394.75,216.68 L391.53,216.14 L388.29,215.64 L385.05,215.19 L381.79,214.78 L378.52,214.41 L375.23,214.09 L371.94,213.82 L368.64,213.59 L365.33,213.41 L362.01,213.28 L358.68,213.19 L355.35,213.15 L352.01,213.16 L348.66,213.22 L345.32,213.33 L341.97,213.49 L338.61,213.70 L335.26,213.96 L331.91,214.26 L328.56,214.62 L325.21,215.03 L321.86,215.49 L318.52,216.00 L315.18,216.56 L311.84,217.18 L308.52,217.84 L305.20,218.56 L301.89,219.32 L298.59,220.14 L295.30,221.02 L292.02,221.94 L288.75,222.92 L285.50,223.94 L282.26,225.02 L279.04,226.16 L275.84,227.34 L272.65,228.57 L269.48,229.86 L266.33,231.20 L263.21,232.59 L260.10,234.03 L257.02,235.53 L253.96,237.07 L250.93,238.67 L247.92,240.31 L244.94,242.01 L241.99,243.75 L239.07,245.55 L236.18,247.40 L233.32,249.29 L230.49,251.23 L227.70,253.23 L224.94,255.27 L222.22,257.36 L219.53,259.49 L216.89,261.67 L214.28,263.90 L211.71,266.17 L209.18,268.49 L206.70,270.86 L204.25,273.27 L201.86,275.72 L199.50,278.21 L197.20,280.75 L194.94,283.33 L192.73,285.95 L190.56,288.61 L188.45,291.31 L186.39,294.05 L184.37,296.82 L182.41,299.63 L180.49,302.47 L178.63,305.35 L176.81,308.26 L175.05,311.20 L173.34,314.17 L171.68,317.17 L170.08,320.19 L168.52,323.25 L167.02,326.33 L165.57,329.43 L164.17,332.56 L162.82,335.72 L161.53,338.89 L160.29,342.08 L159.10,345.30 L157.97,348.53 L156.89,351.78 L155.86,355.05 L154.88,358.33 L153.96,361.63 L153.09,364.94 L152.27,368.26 L151.50,371.60 L150.79,374.94 L150.13,378.30 L149.52,381.66 L148.96,385.03 L148.46,388.41 L148.00,391.79 L147.60,395.18 L147.25,398.57 L146.95,401.97 L146.70,405.37 L146.50,408.77 L146.36,412.17 L146.26,415.57 L146.21,418.97 L146.21,422.36 L146.26,425.76 L146.36,429.14 L146.50,432.53 L146.70,435.91 L146.94,439.28 L147.23,442.65 L147.56,446.01 L147.94,449.35 L148.37,452.70 L148.84,456.03 L149.36,459.35 L149.92,462.65 L150.53,465.95 L151.18,469.23 L151.87,472.50 L152.60,475.76 L153.38,479.00 L154.20,482.23 L155.05,485.44 L155.95,488.63 L156.89,491.81 L157.87,494.97 L158.88,498.11 L159.94,501.23 L161.03,504.33 L162.16,507.41 L163.32,510.48 L164.52,513.52 L165.75,516.54 L167.02,519.54 L168.32,522.51 L169.66,525.47 L171.03,528.40 L172.43,531.31 L173.86,534.19 L175.32,537.05 L176.81,539.89 L178.33,542.70 L179.88,545.49 L181.46,548.25 L183.06,550.99 L184.69,553.70 L186.35,556.38 L188.03,559.04 L189.73,561.67 L191.46,564.28 L193.21,566.86 L194.99,569.41 L196.79,571.93 L198.60,574.43 L200.44,576.90 L202.30,579.34 L204.18,581.75 L206.07,584.14 L207.99,586.50 L209.92,588.83 L211.86,591.13 L213.83,593.41 L215.80,595.66 L217.80,597.88 L219.80,600.07 L221.82,602.24 L223.85,604.37 L225.90,606.48 L227.95,608.57 L230.02,610.62 L232.09,612.65 L234.17,614.65 L236.27,616.62 L238.37,618.57 L240.48,620.49 L242.59,622.39 L244.71,624.26 L246.84,626.10 L248.97,627.92 L251.11,629.71 L253.25,631.47 L255.40,633.21 L257.54,634.93 L259.69,636.62 L261.84,638.29 L264.00,639.94 L266.15,641.56 L268.30,643.16 L270.46,644.73 L272.61,646.29 L274.76,647.82 L276.91,649.33 L279.06,650.82 L281.20,652.29 L283.35,653.74 L285.48,655.17 L287.62,656.58 L289.75,657.97 L291.88,659.34 L294.00,660.70 L296.11,662.03 L298.23,663.36 L300.33,664.66 L302.43,665.95 L304.52,667.22 L306.61,668.48 L308.69,669.72 L310.76,670.95 L312.83,672.16 L314.89,673.36 L316.95,674.54 L319.00,675.71 L321.04,676.87 L323.08,678.01 L325.12,679.14 L327.15,680.26 L329.17,681.36 L331.19,682.45 L333.21,683.52 L335.22,684.58 L337.22,685.63 L339.23,686.67 L341.22,687.70 L343.22,688.71 L345.21,689.71 L347.19,690.70 L349.18,691.67 L351.15,692.64 L353.13,693.59 L355.10,694.53 L357.07,695.46 L359.04,696.37 L361.00,697.28 L362.96,698.17 L364.92,699.05 L366.87,699.92 L368.83,700.78 L370.78,701.63 L372.73,702.46 L374.67,703.29 L376.62,704.10 L378.56,704.90 L380.50,705.69 L382.44,706.47 L384.38,707.24 L386.32,707.99 L388.25,708.74 L390.19,709.47 L392.12,710.19 L394.05,710.90 L395.98,711.60 L397.91,712.29 L399.84,712.96 L401.77,713.63 L403.70,714.28 L405.63,714.92 L407.56,715.54 L409.49,716.16 L411.42,716.76 L413.34,717.36 L415.27,717.94 L417.20,718.50 L419.12,719.06 L421.05,719.60 L422.98,720.13 L424.91,720.65 L426.83,721.15 L428.76,721.65 L430.69,722.13 L432.62,722.59 L434.55,723.05 L436.48,723.49 L438.41,723.91 L440.33,724.33 L442.26,724.73 L444.19,725.11 L446.12,725.48 L448.06,725.84 L449.99,726.19 L451.92,726.52 L453.85,726.83 L455.78,727.13 L457.71,727.42 L459.64,727.69 L461.57,727.95 L463.51,728.19 L465.44,728.42 L467.37,728.63 L469.30,728.83 L471.23,729.01 L473.16,729.18 L475.09,729.33 L477.02,729.46 L478.95,729.58 L480.88,729.68 L482.81,729.76 L484.73,729.83 L486.66,729.88 L488.58,729.92 L490.50,729.94 L492.43,729.94 L494.35,729.92 L496.26,729.89 L498.18,729.84 L500.09,729.77 L502.01,729.68 L503.92,729.58 L505.82,729.46 L507.73,729.32 L509.63,729.16 L511.53,728.98 L513.42,728.78 L515.31,728.57 L517.20,728.34 L519.08,728.09 L520.96,727.81 L522.84,727.52 L524.71,727.22 L526.58,726.89 L528.44,726.54 L530.29,726.17 L532.14,725.78 L533.99,725.38 L535.83,724.95 L537.66,724.50 L539.48,724.04 L541.30,723.55 L543.11,723.04 L544.92,722.52 L546.72,721.97 L548.50,721.40 L550.28,720.82 L552.06,720.21 L553.82,719.58 L555.57,718.93 L557.32,718.26 L559.05,717.57 L560.78,716.86 L562.49,716.13 L564.20,715.37 L565.89,714.60 L567.57,713.81 L569.24,712.99 L570.90,712.16 L572.55,711.30 L574.18,710.42 L575.80,709.53 L577.40,708.61 L579.00,707.67 L580.58,706.71 L582.14,705.73 L583.69,704.73 L585.23,703.72 L586.74,702.68 L588.25,701.62 L589.74,700.55 L591.21,699.46 L592.67,698.35 L594.11,697.22 L595.53,696.07 L596.94,694.91 L598.33,693.73 L599.70,692.53 L601.06,691.32 L602.40,690.09 L603.72,688.84 L605.02,687.58 L606.30,686.30 L607.57,685.01 L608.81,683.71 L610.04,682.39 L611.25,681.05 L612.44,679.70 L613.61,678.34 L614.76,676.97 L615.89,675.58 L617.00,674.18 L618.09,672.77 L619.16,671.34 L620.22,669.91 L621.25,668.46 L622.26,667.01 L623.24,665.54 L624.21,664.06 L625.16,662.57 L626.09,661.07 L626.99,659.57 L627.88,658.05 L628.74,656.53 L629.58,654.99 L630.40,653.45 L631.20,651.91 L631.98,650.35 L632.73,648.79 L633.47,647.22 L634.18,645.65 L634.87,644.06 L635.54,642.48 L636.19,640.89 L636.81,639.29 L637.41,637.69 L637.99,636.08 L638.55,634.47 L639.09,632.86 L639.61,631.24 L640.10,629.62 L640.57,628.00 L641.02,626.38 L641.45,624.75 L641.85,623.12 L642.23,621.49 L642.59,619.86 L642.93,618.23 L643.25,616.60 L643.55,614.97 L643.82,613.34 L644.07,611.71 L644.30,610.08 L644.51,608.45 L644.70,606.83 L644.86,605.20 L645.01,603.58 L645.13,601.96 L645.23,600.34 L645.32,598.73 L645.37,597.12 L645.41,595.51 L645.43,593.91 L645.43,592.31 L645.40,590.71 L645.36,589.13 L645.30,587.54 L645.21,585.96 L645.11,584.39 L644.98,582.82 L644.84,581.26 L644.67,579.71 L644.49,578.16 L644.28,576.62 L644.06,575.09 L643.82,573.57 L643.56,572.05 L643.28,570.54 L642.98,569.04 L642.66,567.55 L642.33,566.07 L641.97,564.59 L641.60,563.13 L641.21,561.67 L640.80,560.23 L640.38,558.80 L639.94,557.37 L639.48,555.96 L639.00,554.56 L638.51,553.17 L638.00,551.79 L637.47,550.42 L636.93,549.06 L636.38,547.72 L635.80,546.38 L635.22,545.06 L634.61,543.76 L633.99,542.46 L633.36,541.18 L632.71,539.91 L632.05,538.65 L631.38,537.41 L630.69,536.18 L629.98,534.97 L629.27,533.77 L628.54,532.58 L627.80,531.41 L627.04,530.25 L626.27,529.10 L625.50,527.97 L624.71,526.86 L623.90,525.76 L623.09,524.67 L622.26,523.61 L621.43,522.55 L620.58,521.51 L619.73,520.49 L618.86,519.48 L617.98,518.49 L617.10,517.52 L616.20,516.56 L615.30,515.61 L614.39,514.68 L613.47,513.77 L612.54,512.88 L611.60,512.00 Z" fill="none" stroke="rgba(228,26,28,0.6)" stroke-width="3.0" stroke-dasharray="12.7,12.86" stroke-dashoffset="1.35"/>
<path d="M564.40,512.00 L564.17,511.54 L563.95,511.09 L563.71,510.64 L563.48,510.20 L563.24,509.76 L563.00,509.32 L562.75,508.89 L562.50,508.46 L562.25,508.04 L562.00,507.62 L561.75,507.20 L561.50,506.79 L561.24,506.38 L560.98,505.98 L560.73,505.58 L560.47,505.18 L560.21,504.78 L559.95,504.39 L559.69,504.01 L559.44,503.62 L559.18,503.24 L558.92,502.87 L558.66,502.49 L558.41,502.12 L558.16,501.75 L557.90,501.39 L557.65,501.02 L557.40,500.66 L557.16,500.30 L556.91,499.95 L556.67,499.59 L556.43,499.24 L556.20,498.89 L555.96,498.54 L555.73,498.19 L555.50,497.84 L555.28,497.50 L555.06,497.15 L554.84,496.81 L554.63,496.46 L554.42,496.12 L554.22,495.77 L554.02,495.42 L553.82,495.08 L553.63,494.73 L553.44,494.38 L553.26,494.03 L553.08,493.68 L552.91,493.33 L552.74,492.97 L552.58,492.62 L552.42,492.25 L552.27,491.89 L552.12,491.53 L551.98,491.16 L551.84,490.78 L551.71,490.41 L551.58,490.02 L551.46,489.64 L551.34,489.25 L551.23,488.85 L551.13,488.45 L551.03,488.04 L550.94,487.63 L550.85,487.21 L550.77,486.78 L550.69,486.35 L550.62,485.91 L550.55,485.46 L550.49,485.00 L550.43,484.54 L550.38,484.06 L550.34,483.58 L550.29,483.09 L550.26,482.59 L550.23,482.08 L550.20,481.56 L550.18,481.03 L550.16,480.48 L550.14,479.93 L550.13,479.37 L550.13,478.79 L550.13,478.20 L550.13,477.60 L550.13,476.98 L550.14,476.36 L550.15,475.72 L550.17,475.06 L550.19,474.39 L550.21,473.71 L550.23,473.01 L550.25,472.30 L550.28,471.57 L550.30,470.83 L550.33,470.07 L550.36,469.29 L550.39,468.50 L550.42,467.69 L550.46,466.87 L550.49,466.02 L550.52,465.16 L550.55,464.28 L550.57,463.38 L550.60,462.46 L550.63,461.53 L550.65,460.57 L550.67,459.60 L550.69,458.60 L550.70,457.59 L550.71,456.55 L550.72,455.50 L550.72,454.42 L550.72,453.32 L550.71,452.20 L550.70,451.06 L550.68,449.90 L550.66,448.72 L550.62,447.51 L550.58,446.28 L550.53,445.03 L550.48,443.76 L550.41,442.46 L550.34,441.14 L550.25,439.79 L550.16,438.43 L550.05,437.03 L549.94,435.62 L549.81,434.18 L549.66,432.72 L549.51,431.23 L549.34,429.71 L549.16,428.18 L548.96,426.62 L548.75,425.03 L548.52,423.42 L548.28,421.78 L548.02,420.12 L547.74,418.43 L547.44,416.72 L547.13,414.98 L546.79,413.22 L546.44,411.43 L546.06,409.61 L545.66,407.77 L545.24,405.91 L544.80,404.02 L544.34,402.11 L543.85,400.17 L543.33,398.21 L542.79,396.23 L542.23,394.23 L541.63,392.21 L541.01,390.17 L540.36,388.11 L539.68,386.03 L538.97,383.93 L538.23,381.82 L537.45,379.70 L536.65,377.55 L535.81,375.40 L534.94,373.23 L534.04,371.05 L533.10,368.86 L532.13,366.66 L531.12,364.45 L530.08,362.24 L529.00,360.01 L527.89,357.78 L526.74,355.54 L525.55,353.30 L524.33,351.06 L523.07,348.81 L521.77,346.57 L520.43,344.32 L519.06,342.07 L517.64,339.83 L516.19,337.58 L514.70,335.34 L513.17,333.11 L511.60,330.88 L510.00,328.66 L508.35,326.44 L506.67,324.24 L504.94,322.04 L503.18,319.86 L501.38,317.68 L499.54,315.52 L497.66,313.38 L495.74,311.24 L493.78,309.13 L491.78,307.03 L489.75,304.95 L487.68,302.89 L485.57,300.85 L483.42,298.83 L481.24,296.83 L479.02,294.85 L476.76,292.90 L474.46,290.98 L472.13,289.08 L469.77,287.20 L467.37,285.36 L464.93,283.54 L462.46,281.76 L459.96,280.00 L457.43,278.28 L454.86,276.59 L452.26,274.93 L449.62,273.31 L446.96,271.72 L444.27,270.17 L441.55,268.66 L438.79,267.18 L436.01,265.75 L433.21,264.35 L430.37,263.00 L427.51,261.68 L424.63,260.41 L421.72,259.18 L418.78,258.00 L415.83,256.86 L412.85,255.77 L409.85,254.72 L406.83,253.72 L403.79,252.76 L400.73,251.86 L397.66,251.00 L394.57,250.19 L391.46,249.43 L388.34,248.73 L385.20,248.07 L382.06,247.47 L378.90,246.92 L375.73,246.42 L372.55,245.97 L369.36,245.58 L366.17,245.25 L362.97,244.97 L359.77,244.74 L356.56,244.57 L353.35,244.46 L350.14,244.40 L346.93,244.40 L343.72,244.45 L340.51,244.57 L337.30,244.74 L334.10,244.97 L330.91,245.26 L327.72,245.60 L324.54,246.01 L321.38,246.47 L318.22,246.99 L315.08,247.57 L311.94,248.21 L308.83,248.91 L305.73,249.67 L302.65,250.49 L299.59,251.36 L296.54,252.30 L293.52,253.29 L290.53,254.34 L287.55,255.46 L284.61,256.63 L281.69,257.85 L278.79,259.14 L275.93,260.48 L273.10,261.88 L270.31,263.34 L267.54,264.86 L264.81,266.43 L262.12,268.06 L259.47,269.74 L256.86,271.48 L254.28,273.27 L251.75,275.12 L249.27,277.02 L246.83,278.98 L244.43,280.99 L242.09,283.05 L239.79,285.16 L237.54,287.32 L235.34,289.53 L233.20,291.79 L231.11,294.10 L229.08,296.46 L227.11,298.86 L225.19,301.32 L223.34,303.81 L221.54,306.35 L219.81,308.93 L218.13,311.56 L216.52,314.22 L214.97,316.92 L213.49,319.66 L212.07,322.43 L210.71,325.23 L209.41,328.07 L208.18,330.94 L207.01,333.83 L205.90,336.76 L204.86,339.71 L203.88,342.68 L202.96,345.68 L202.11,348.69 L201.33,351.73 L200.60,354.79 L199.94,357.86 L199.35,360.95 L198.82,364.06 L198.35,367.17 L197.94,370.30 L197.60,373.44 L197.32,376.59 L197.10,379.75 L196.94,382.91 L196.85,386.07 L196.81,389.24 L196.84,392.41 L196.93,395.59 L197.08,398.76 L197.29,401.93 L197.55,405.10 L197.88,408.26 L198.26,411.42 L198.71,414.58 L199.21,417.72 L199.76,420.86 L200.38,423.98 L201.05,427.10 L201.77,430.20 L202.55,433.29 L203.38,436.37 L204.26,439.43 L205.20,442.48 L206.19,445.51 L207.23,448.52 L208.31,451.51 L209.45,454.48 L210.64,457.43 L211.87,460.36 L213.16,463.26 L214.48,466.14 L215.86,469.00 L217.27,471.83 L218.73,474.64 L220.24,477.42 L221.78,480.17 L223.37,482.90 L224.99,485.59 L226.66,488.26 L228.36,490.89 L230.10,493.50 L231.88,496.07 L233.69,498.61 L235.53,501.12 L237.41,503.60 L239.32,506.04 L241.26,508.45 L243.24,510.83 L245.24,513.17 L247.27,515.47 L249.33,517.74 L251.41,519.97 L253.52,522.17 L255.65,524.33 L257.81,526.45 L259.99,528.54 L262.19,530.59 L264.41,532.60 L266.64,534.58 L268.90,536.51 L271.17,538.41 L273.46,540.27 L275.77,542.09 L278.08,543.88 L280.41,545.63 L282.76,547.33 L285.11,549.00 L287.47,550.64 L289.84,552.23 L292.22,553.79 L294.61,555.30 L297.00,556.78 L299.39,558.23 L301.79,559.63 L304.19,561.00 L306.60,562.33 L309.00,563.63 L311.40,564.89 L313.80,566.11 L316.20,567.30 L318.60,568.45 L320.99,569.57 L323.38,570.66 L325.76,571.70 L328.13,572.72 L330.50,573.70 L332.86,574.65 L335.20,575.57 L337.54,576.46 L339.87,577.32 L342.18,578.14 L344.48,578.94 L346.77,579.70 L349.04,580.44 L351.30,581.15 L353.54,581.83 L355.76,582.49 L357.97,583.12 L360.16,583.73 L362.32,584.31 L364.47,584.87 L366.60,585.40 L368.71,585.92 L370.80,586.41 L372.86,586.88 L374.91,587.34 L376.92,587.77 L378.92,588.19 L380.89,588.59 L382.83,588.98 L384.75,589.35 L386.65,589.70 L388.52,590.05 L390.36,590.38 L392.17,590.70 L393.96,591.01 L395.72,591.31 L397.45,591.61 L399.15,591.90 L400.83,592.18 L402.47,592.46 L404.09,592.73 L405.68,593.00 L407.24,593.27 L408.77,593.54 L410.28,593.80 L411.75,594.06 L413.21,594.33 L414.64,594.59 L416.04,594.85 L417.42,595.11 L418.78,595.37 L420.11,595.64 L421.42,595.91 L422.71,596.18 L423.97,596.45 L425.22,596.72 L426.44,597.00 L427.65,597.28 L428.83,597.56 L430.00,597.85 L431.15,598.15 L432.27,598.44 L433.39,598.75 L434.48,599.06 L435.56,599.37 L436.63,599.69 L437.67,600.01 L438.71,600.34 L439.73,600.68 L440.73,601.02 L441.73,601.37 L442.71,601.73 L443.68,602.09 L444.63,602.46 L445.58,602.83 L446.52,603.22 L447.44,603.61 L448.36,604.00 L449.27,604.40 L450.17,604.81 L451.06,605.23 L451.94,605.66 L452.82,606.09 L453.69,606.52 L454.56,606.97 L455.42,607.42 L456.27,607.88 L457.12,608.34 L457.97,608.81 L458.81,609.29 L459.65,609.77 L460.49,610.26 L461.33,610.76 L462.16,611.26 L462.99,611.77 L463.82,612.28 L464.65,612.80 L465.48,613.32 L466.31,613.85 L467.15,614.38 L467.98,614.92 L468.81,615.46 L469.65,616.01 L470.49,616.56 L471.33,617.11 L472.17,617.67 L473.01,618.23 L473.86,618.79 L474.72,619.36 L475.57,619.93 L476.43,620.50 L477.30,621.07 L478.17,621.64 L479.04,622.21 L479.92,622.78 L480.81,623.36 L481.70,623.93 L482.60,624.51 L483.50,625.08 L484.41,625.65 L485.33,626.22 L486.25,626.79 L487.18,627.35 L488.12,627.92 L489.06,628.48 L490.01,629.04 L490.97,629.59 L491.94,630.14 L492.91,630.68 L493.89,631.22 L494.88,631.76 L495.87,632.29 L496.88,632.81 L497.89,633.32 L498.91,633.83 L499.93,634.33 L500.97,634.83 L502.01,635.31 L503.06,635.79 L504.12,636.26 L505.18,636.72 L506.25,637.17 L507.33,637.61 L508.42,638.03 L509.51,638.45 L510.61,638.86 L511.72,639.25 L512.84,639.63 L513.96,640.00 L515.09,640.36 L516.22,640.70 L517.36,641.03 L518.50,641.34 L519.66,641.64 L520.81,641.92 L521.97,642.19 L523.14,642.44 L524.31,642.68 L525.49,642.90 L526.67,643.10 L527.85,643.29 L529.04,643.46 L530.23,643.61 L531.42,643.74 L532.62,643.85 L533.82,643.95 L535.02,644.02 L536.22,644.08 L537.42,644.11 L538.62,644.13 L539.82,644.12 L541.02,644.10 L542.23,644.05 L543.43,643.98 L544.63,643.89 L545.82,643.78 L547.02,643.64 L548.21,643.48 L549.40,643.30 L550.58,643.10 L551.76,642.87 L552.93,642.63 L554.10,642.35 L555.27,642.06 L556.42,641.74 L557.57,641.39 L558.71,641.02 L559.85,640.63 L560.97,640.22 L562.09,639.79 L563.20,639.33 L564.30,638.85 L565.39,638.35 L566.47,637.83 L567.54,637.29 L568.60,636.72 L569.65,636.14 L570.69,635.53 L571.71,634.91 L572.72,634.27 L573.73,633.60 L574.71,632.92 L575.69,632.22 L576.65,631.50 L577.60,630.76 L578.54,630.00 L579.46,629.23 L580.36,628.44 L581.25,627.63 L582.13,626.81 L582.99,625.97 L583.84,625.11 L584.67,624.24 L585.49,623.36 L586.28,622.46 L587.07,621.54 L587.83,620.61 L588.58,619.67 L589.32,618.71 L590.03,617.74 L590.73,616.76 L591.41,615.76 L592.07,614.76 L592.72,613.74 L593.34,612.71 L593.95,611.67 L594.54,610.62 L595.12,609.55 L595.67,608.48 L596.21,607.40 L596.72,606.31 L597.22,605.22 L597.70,604.11 L598.16,603.00 L598.60,601.87 L599.02,600.75 L599.42,599.61 L599.80,598.47 L600.16,597.32 L600.51,596.17 L600.83,595.01 L601.13,593.84 L601.42,592.68 L601.68,591.50 L601.93,590.33 L602.15,589.15 L602.36,587.97 L602.54,586.78 L602.71,585.59 L602.85,584.41 L602.98,583.21 L603.08,582.02 L603.17,580.83 L603.24,579.64 L603.28,578.44 L603.31,577.25 L603.32,576.06 L603.31,574.87 L603.28,573.68 L603.23,572.49 L603.16,571.30 L603.07,570.12 L602.96,568.94 L602.84,567.76 L602.69,566.59 L602.53,565.42 L602.35,564.25 L602.15,563.09 L601.93,561.93 L601.69,560.78 L601.43,559.63 L601.16,558.49 L600.87,557.35 L600.56,556.22 L600.23,555.10 L599.89,553.99 L599.53,552.88 L599.15,551.78 L598.75,550.68 L598.34,549.60 L597.91,548.52 L597.47,547.46 L597.01,546.40 L596.53,545.35 L596.04,544.31 L595.53,543.28 L595.00,542.26 L594.47,541.25 L593.91,540.25 L593.34,539.26 L592.76,538.28 L592.17,537.31 L591.55,536.36 L590.93,535.41 L590.29,534.48 L589.64,533.56 L588.98,532.66 L588.30,531.76 L587.61,530.88 L586.91,530.01 L586.20,529.15 L585.47,528.31 L584.74,527.48 L583.99,526.67 L583.23,525.87 L582.46,525.08 L581.69,524.30 L580.90,523.55 L580.10,522.80 L579.29,522.07 L578.47,521.36 L577.65,520.65 L576.81,519.97 L575.97,519.30 L575.12,518.64 L574.26,518.00 L573.40,517.38 L572.52,516.77 L571.64,516.18 L570.76,515.60 L569.86,515.04 L568.97,514.49 L568.06,513.96 L567.15,513.45 L566.24,512.95 L565.32,512.47 L564.40,512.00 Z" fill="none" stroke="rgba(228,26,28,0.6)" stroke-width="3.0" stroke-dasharray="12.7,12.86" stroke-dashoffset="1.35"/>
<circle cx="588.50" cy="512.00" r="9.2" fill="#fff" stroke="rgba(228,26,28,1)" stroke-width="4.7"/>
<circle cx="556.56" cy="374.86" r="9.2" fill="#fff" stroke="rgba(228,26,28,1)" stroke-width="4.7"/>
<circle cx="210.40" cy="292.87" r="9.2" fill="#fff" stroke="rgba(228,26,28,1)" stroke-width="4.7"/>
<circle cx="351.49" cy="628.62" r="9.2" fill="#fff" stroke="rgba(228,26,28,1)" stroke-width="4.7"/>
<circle cx="565.34" cy="676.15" r="9.2" fill="#fff" stroke="rgba(228,26,28,1)" stroke-width="4.7"/>
<text transform="translate(943.00,512.00) rotate(90)" text-anchor="middle" font-size="28" letter-spacing="2.5" word-spacing="0" fill="#000" stroke="#000" stroke-width="0.15">Unimodality</text>
<text transform="translate(645.19,102.09) rotate(18)" text-anchor="middle" font-size="28" letter-spacing="2.5" word-spacing="0" fill="#000" stroke="#000" stroke-width="0.15">Uniformity</text>
<text transform="translate(163.31,258.66) rotate(-54)" text-anchor="middle" font-size="28" letter-spacing="2.3" word-spacing="3" fill="#000" stroke="#000" stroke-width="0.15">Mode for espresso</text>
<text transform="translate(163.31,765.34) rotate(-126)" text-anchor="middle" font-size="28" letter-spacing="2.5" word-spacing="0" fill="#000" stroke="#000" stroke-width="0.15">Size of fines</text>
<text transform="translate(645.19,921.91) rotate(-198)" text-anchor="middle" font-size="28" letter-spacing="2.2" word-spacing="0" fill="#000" stroke="#000" stroke-width="0.15">Middle-sized particles</text>
<defs><filter id="sh" x="-10%" y="-10%" width="130%" height="130%"><feGaussianBlur stdDeviation="1.3"/></filter></defs>
<rect x="30" y="877" width="340" height="131" fill="#000" opacity="0.15" filter="url(#sh)"/>
<rect x="20.4" y="869.0" width="346.6" height="134.3" fill="#fff" stroke="#000" stroke-width="3.2"/>
<circle cx="56.25" cy="901.60" r="9.2" fill="#fff" stroke="rgba(228,26,28,1)" stroke-width="4.7"/>
<path d="M56.40,924.70 L46.35,942.10 L66.45,942.10 Z" fill="#fff" stroke="rgba(55,126,184,1)" stroke-width="4.5" stroke-linejoin="miter"/>
<path d="M56.40,956.60 L63.40,970.80 L56.40,985.00 L49.40,970.80 Z" fill="#fff" stroke="rgba(77,175,74,1)" stroke-width="4.6" stroke-linejoin="miter" stroke-miterlimit="10"/>
<text x="93.5" y="910.0" font-size="22.6" letter-spacing="2.05" fill="#000" stroke="#000" stroke-width="0.15">Lelit Fred PL043MMI</text>
<text x="93.5" y="944.6" font-size="22.6" letter-spacing="2.05" fill="#000" stroke="#000" stroke-width="0.15">Baratza Forte</text>
<text x="93.5" y="979.2" font-size="22.6" letter-spacing="2.05" fill="#000" stroke="#000" stroke-width="0.15">Niche Zero</text>
</svg></div></body></html>
